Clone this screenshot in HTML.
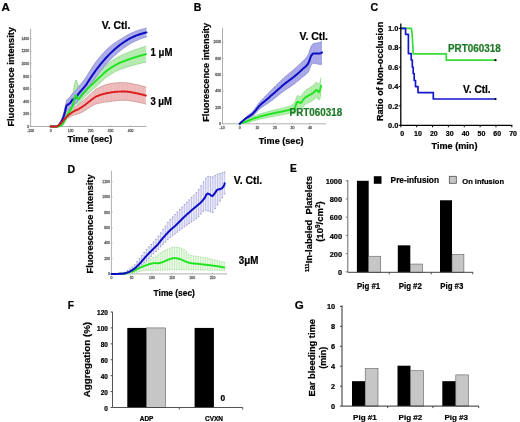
<!DOCTYPE html>
<html><head><meta charset="utf-8"><style>
html,body{margin:0;padding:0;background:#fff;}
body{width:520px;height:422px;overflow:hidden;}
svg{display:block;font-family:"Liberation Sans", sans-serif;will-change:transform;filter:blur(0.3px);}
</style></head><body>
<svg width="520" height="422" viewBox="0 0 520 422">
<rect width="520" height="422" fill="#fff"/>
<line x1="30.60" y1="29.00" x2="30.60" y2="126.50" stroke="#9a9a9a" stroke-width="0.8"/>
<line x1="30.60" y1="126.50" x2="146.50" y2="126.50" stroke="#9a9a9a" stroke-width="0.8"/>
<line x1="30.60" y1="126.50" x2="31.80" y2="126.50" stroke="#9a9a9a" stroke-width="0.6"/>
<text x="29.10" y="127.75" font-size="3.45" text-anchor="end" fill="#6a6a6a" font-weight="normal" stroke="#6a6a6a" stroke-width="0.28">0</text>
<line x1="30.60" y1="113.94" x2="31.80" y2="113.94" stroke="#9a9a9a" stroke-width="0.6"/>
<text x="29.10" y="115.19" font-size="3.45" text-anchor="end" fill="#6a6a6a" font-weight="normal" stroke="#6a6a6a" stroke-width="0.28">200</text>
<line x1="30.60" y1="101.38" x2="31.80" y2="101.38" stroke="#9a9a9a" stroke-width="0.6"/>
<text x="29.10" y="102.63" font-size="3.45" text-anchor="end" fill="#6a6a6a" font-weight="normal" stroke="#6a6a6a" stroke-width="0.28">400</text>
<line x1="30.60" y1="88.82" x2="31.80" y2="88.82" stroke="#9a9a9a" stroke-width="0.6"/>
<text x="29.10" y="90.07" font-size="3.45" text-anchor="end" fill="#6a6a6a" font-weight="normal" stroke="#6a6a6a" stroke-width="0.28">600</text>
<line x1="30.60" y1="76.26" x2="31.80" y2="76.26" stroke="#9a9a9a" stroke-width="0.6"/>
<text x="29.10" y="77.51" font-size="3.45" text-anchor="end" fill="#6a6a6a" font-weight="normal" stroke="#6a6a6a" stroke-width="0.28">800</text>
<line x1="30.60" y1="63.70" x2="31.80" y2="63.70" stroke="#9a9a9a" stroke-width="0.6"/>
<text x="29.10" y="64.95" font-size="3.45" text-anchor="end" fill="#6a6a6a" font-weight="normal" stroke="#6a6a6a" stroke-width="0.28">1000</text>
<line x1="30.60" y1="51.14" x2="31.80" y2="51.14" stroke="#9a9a9a" stroke-width="0.6"/>
<text x="29.10" y="52.39" font-size="3.45" text-anchor="end" fill="#6a6a6a" font-weight="normal" stroke="#6a6a6a" stroke-width="0.28">1200</text>
<line x1="30.60" y1="38.58" x2="31.80" y2="38.58" stroke="#9a9a9a" stroke-width="0.6"/>
<text x="29.10" y="39.83" font-size="3.45" text-anchor="end" fill="#6a6a6a" font-weight="normal" stroke="#6a6a6a" stroke-width="0.28">1400</text>
<line x1="30.60" y1="126.50" x2="30.60" y2="125.30" stroke="#9a9a9a" stroke-width="0.6"/>
<text x="30.60" y="131.50" font-size="3.45" text-anchor="middle" fill="#6a6a6a" font-weight="normal" stroke="#6a6a6a" stroke-width="0.28">-100</text>
<line x1="50.60" y1="126.50" x2="50.60" y2="125.30" stroke="#9a9a9a" stroke-width="0.6"/>
<text x="50.60" y="131.50" font-size="3.45" text-anchor="middle" fill="#6a6a6a" font-weight="normal" stroke="#6a6a6a" stroke-width="0.28">0</text>
<line x1="70.60" y1="126.50" x2="70.60" y2="125.30" stroke="#9a9a9a" stroke-width="0.6"/>
<text x="70.60" y="131.50" font-size="3.45" text-anchor="middle" fill="#6a6a6a" font-weight="normal" stroke="#6a6a6a" stroke-width="0.28">100</text>
<line x1="90.60" y1="126.50" x2="90.60" y2="125.30" stroke="#9a9a9a" stroke-width="0.6"/>
<text x="90.60" y="131.50" font-size="3.45" text-anchor="middle" fill="#6a6a6a" font-weight="normal" stroke="#6a6a6a" stroke-width="0.28">200</text>
<line x1="110.60" y1="126.50" x2="110.60" y2="125.30" stroke="#9a9a9a" stroke-width="0.6"/>
<text x="110.60" y="131.50" font-size="3.45" text-anchor="middle" fill="#6a6a6a" font-weight="normal" stroke="#6a6a6a" stroke-width="0.28">300</text>
<line x1="130.60" y1="126.50" x2="130.60" y2="125.30" stroke="#9a9a9a" stroke-width="0.6"/>
<text x="130.60" y="131.50" font-size="3.45" text-anchor="middle" fill="#6a6a6a" font-weight="normal" stroke="#6a6a6a" stroke-width="0.28">400</text>
<polygon points="50.6,126.5 51.4,126.4 52.2,126.4 53.0,126.3 53.8,126.3 54.6,126.2 55.4,126.2 56.2,126.1 57.0,126.0 57.8,125.5 58.6,124.8 59.4,124.0 60.2,123.2 61.0,122.3 61.8,121.2 62.6,120.1 63.4,119.0 64.2,117.9 65.0,116.8 65.8,115.8 66.6,114.8 67.4,113.8 68.2,112.8 69.0,112.0 69.8,111.1 70.6,110.3 71.4,109.6 72.2,108.9 73.0,108.2 73.8,107.6 74.6,107.0 75.4,106.5 76.2,105.9 77.0,105.4 77.8,104.9 78.6,104.3 79.4,103.7 80.2,103.1 81.0,102.5 81.8,101.9 82.6,101.2 83.4,100.6 84.2,99.9 85.0,99.2 85.8,98.5 86.6,97.7 87.4,97.0 88.2,96.3 89.0,95.6 89.8,94.9 90.6,94.1 91.4,93.3 92.2,92.6 93.0,91.8 93.8,91.1 94.6,90.4 95.4,89.8 96.2,89.2 97.0,88.7 97.8,88.3 98.6,87.8 99.4,87.4 100.2,87.0 101.0,86.6 101.8,86.3 102.6,86.0 103.4,85.7 104.2,85.4 105.0,85.1 105.8,84.8 106.6,84.6 107.4,84.3 108.2,84.1 109.0,83.9 109.8,83.7 110.6,83.5 111.4,83.4 112.2,83.3 113.0,83.2 113.8,83.1 114.6,83.0 115.4,82.9 116.2,82.9 117.0,82.8 117.8,82.8 118.6,82.7 119.4,82.7 120.2,82.7 121.0,82.7 121.8,82.7 122.6,82.7 123.4,82.7 124.2,82.7 125.0,82.7 125.8,82.7 126.6,82.8 127.4,82.9 128.2,83.0 129.0,83.1 129.8,83.3 130.6,83.4 131.4,83.6 132.2,83.8 133.0,83.9 133.8,84.1 134.6,84.3 135.4,84.4 136.2,84.6 137.0,84.8 137.8,84.9 138.6,85.1 139.4,85.3 140.2,85.5 141.0,85.7 141.8,85.9 142.6,86.1 143.4,86.4 144.2,86.6 145.0,86.8 145.8,87.0 146.0,87.1 146.0,104.1 145.8,104.0 145.0,103.8 144.2,103.6 143.4,103.4 142.6,103.2 141.8,103.0 141.0,102.9 140.2,102.7 139.4,102.5 138.6,102.3 137.8,102.2 137.0,102.0 136.2,101.9 135.4,101.7 134.6,101.6 133.8,101.4 133.0,101.3 132.2,101.1 131.4,101.0 130.6,100.8 129.8,100.7 129.0,100.6 128.2,100.5 127.4,100.4 126.6,100.3 125.8,100.3 125.0,100.3 124.2,100.3 123.4,100.3 122.6,100.3 121.8,100.4 121.0,100.4 120.2,100.4 119.4,100.5 118.6,100.5 117.8,100.5 117.0,100.6 116.2,100.7 115.4,100.8 114.6,100.9 113.8,101.0 113.0,101.1 112.2,101.2 111.4,101.4 110.6,101.5 109.8,101.6 109.0,101.7 108.2,101.7 107.4,101.8 106.6,101.9 105.8,102.0 105.0,102.1 104.2,102.2 103.4,102.3 102.6,102.5 101.8,102.6 101.0,102.8 100.2,103.0 99.4,103.2 98.6,103.3 97.8,103.5 97.0,103.7 96.2,103.9 95.4,104.2 94.6,104.6 93.8,105.0 93.0,105.4 92.2,105.9 91.4,106.4 90.6,106.9 89.8,107.4 89.0,107.9 88.2,108.4 87.4,108.9 86.6,109.5 85.8,110.0 85.0,110.5 84.2,111.0 83.4,111.4 82.6,111.9 81.8,112.3 81.0,112.7 80.2,113.1 79.4,113.5 78.6,113.7 77.8,114.0 77.0,114.2 76.2,114.4 75.4,114.6 74.6,114.9 73.8,115.1 73.0,115.4 72.2,115.7 71.4,116.1 70.6,116.6 69.8,117.0 69.0,117.5 68.2,117.9 67.4,118.5 66.6,119.1 65.8,119.7 65.0,120.3 64.2,121.0 63.4,121.8 62.6,122.7 61.8,123.5 61.0,124.3 60.2,124.9 59.4,125.4 58.6,126.0 57.8,126.5 57.0,126.8 56.2,126.9 55.4,126.8 54.6,126.8 53.8,126.7 53.0,126.7 52.2,126.6 51.4,126.6 50.6,126.5" fill="#f3c6c6"/>
<path d="M53.8 126.3V126.7M55.4 126.2V126.8M57.0 126.0V126.8M58.6 124.8V126.0M60.2 123.2V124.9M61.8 121.2V123.5M63.4 119.0V121.8M65.0 116.8V120.3M66.6 114.8V119.1M68.2 112.8V117.9M69.8 111.1V117.0M71.4 109.6V116.1M73.0 108.2V115.4M74.6 107.0V114.9M76.2 105.9V114.4M77.8 104.9V114.0M79.4 103.7V113.5M81.0 102.5V112.7M82.6 101.2V111.9M84.2 99.9V111.0M85.8 98.5V110.0M87.4 97.0V108.9M89.0 95.6V107.9M90.6 94.1V106.9M92.2 92.6V105.9M93.8 91.1V105.0M95.4 89.8V104.2M97.0 88.7V103.7M98.6 87.8V103.3M100.2 87.0V103.0M101.8 86.3V102.6M103.4 85.7V102.3M105.0 85.1V102.1M106.6 84.6V101.9M108.2 84.1V101.7M109.8 83.7V101.6M111.4 83.4V101.4M113.0 83.2V101.1M114.6 83.0V100.9M116.2 82.9V100.7M117.8 82.8V100.5M119.4 82.7V100.5M121.0 82.7V100.4M122.6 82.7V100.3M124.2 82.7V100.3M125.8 82.7V100.3M127.4 82.9V100.4M129.0 83.1V100.6M130.6 83.4V100.8M132.2 83.8V101.1M133.8 84.1V101.4M135.4 84.4V101.7M137.0 84.8V102.0M138.6 85.1V102.3M140.2 85.5V102.7M141.8 85.9V103.0M143.4 86.4V103.4M145.0 86.8V103.8" stroke="#e0a0a0" stroke-width="0.5" fill="none"/>
<polyline points="50.6,126.5 51.4,126.4 52.2,126.4 53.0,126.3 53.8,126.3 54.6,126.2 55.4,126.2 56.2,126.1 57.0,126.0 57.8,125.5 58.6,124.8 59.4,124.0 60.2,123.2 61.0,122.3 61.8,121.2 62.6,120.1 63.4,119.0 64.2,117.9 65.0,116.8 65.8,115.8 66.6,114.8 67.4,113.8 68.2,112.8 69.0,112.0 69.8,111.1 70.6,110.3 71.4,109.6 72.2,108.9 73.0,108.2 73.8,107.6 74.6,107.0 75.4,106.5 76.2,105.9 77.0,105.4 77.8,104.9 78.6,104.3 79.4,103.7 80.2,103.1 81.0,102.5 81.8,101.9 82.6,101.2 83.4,100.6 84.2,99.9 85.0,99.2 85.8,98.5 86.6,97.7 87.4,97.0 88.2,96.3 89.0,95.6 89.8,94.9 90.6,94.1 91.4,93.3 92.2,92.6 93.0,91.8 93.8,91.1 94.6,90.4 95.4,89.8 96.2,89.2 97.0,88.7 97.8,88.3 98.6,87.8 99.4,87.4 100.2,87.0 101.0,86.6 101.8,86.3 102.6,86.0 103.4,85.7 104.2,85.4 105.0,85.1 105.8,84.8 106.6,84.6 107.4,84.3 108.2,84.1 109.0,83.9 109.8,83.7 110.6,83.5 111.4,83.4 112.2,83.3 113.0,83.2 113.8,83.1 114.6,83.0 115.4,82.9 116.2,82.9 117.0,82.8 117.8,82.8 118.6,82.7 119.4,82.7 120.2,82.7 121.0,82.7 121.8,82.7 122.6,82.7 123.4,82.7 124.2,82.7 125.0,82.7 125.8,82.7 126.6,82.8 127.4,82.9 128.2,83.0 129.0,83.1 129.8,83.3 130.6,83.4 131.4,83.6 132.2,83.8 133.0,83.9 133.8,84.1 134.6,84.3 135.4,84.4 136.2,84.6 137.0,84.8 137.8,84.9 138.6,85.1 139.4,85.3 140.2,85.5 141.0,85.7 141.8,85.9 142.6,86.1 143.4,86.4 144.2,86.6 145.0,86.8 145.8,87.0 146.0,87.1" fill="none" stroke="#c48888" stroke-width="0.7" stroke-linejoin="round" stroke-linecap="round"/>
<polyline points="50.6,126.5 51.4,126.6 52.2,126.6 53.0,126.7 53.8,126.7 54.6,126.8 55.4,126.8 56.2,126.9 57.0,126.8 57.8,126.5 58.6,126.0 59.4,125.4 60.2,124.9 61.0,124.3 61.8,123.5 62.6,122.7 63.4,121.8 64.2,121.0 65.0,120.3 65.8,119.7 66.6,119.1 67.4,118.5 68.2,117.9 69.0,117.5 69.8,117.0 70.6,116.6 71.4,116.1 72.2,115.7 73.0,115.4 73.8,115.1 74.6,114.9 75.4,114.6 76.2,114.4 77.0,114.2 77.8,114.0 78.6,113.7 79.4,113.5 80.2,113.1 81.0,112.7 81.8,112.3 82.6,111.9 83.4,111.4 84.2,111.0 85.0,110.5 85.8,110.0 86.6,109.5 87.4,108.9 88.2,108.4 89.0,107.9 89.8,107.4 90.6,106.9 91.4,106.4 92.2,105.9 93.0,105.4 93.8,105.0 94.6,104.6 95.4,104.2 96.2,103.9 97.0,103.7 97.8,103.5 98.6,103.3 99.4,103.2 100.2,103.0 101.0,102.8 101.8,102.6 102.6,102.5 103.4,102.3 104.2,102.2 105.0,102.1 105.8,102.0 106.6,101.9 107.4,101.8 108.2,101.7 109.0,101.7 109.8,101.6 110.6,101.5 111.4,101.4 112.2,101.2 113.0,101.1 113.8,101.0 114.6,100.9 115.4,100.8 116.2,100.7 117.0,100.6 117.8,100.5 118.6,100.5 119.4,100.5 120.2,100.4 121.0,100.4 121.8,100.4 122.6,100.3 123.4,100.3 124.2,100.3 125.0,100.3 125.8,100.3 126.6,100.3 127.4,100.4 128.2,100.5 129.0,100.6 129.8,100.7 130.6,100.8 131.4,101.0 132.2,101.1 133.0,101.3 133.8,101.4 134.6,101.6 135.4,101.7 136.2,101.9 137.0,102.0 137.8,102.2 138.6,102.3 139.4,102.5 140.2,102.7 141.0,102.9 141.8,103.0 142.6,103.2 143.4,103.4 144.2,103.6 145.0,103.8 145.8,104.0 146.0,104.1" fill="none" stroke="#c48888" stroke-width="0.7" stroke-linejoin="round" stroke-linecap="round"/>
<polygon points="50.6,126.5 51.4,126.5 52.2,126.4 53.0,126.4 53.8,126.3 54.6,126.3 55.4,126.2 56.2,126.2 57.0,126.2 57.8,126.1 58.6,126.0 59.4,125.8 60.2,125.3 61.0,124.7 61.8,123.8 62.6,122.6 63.4,121.2 64.2,119.6 65.0,117.7 65.8,115.6 66.6,113.5 67.4,111.7 68.2,110.0 69.0,108.4 69.8,106.9 70.6,105.2 71.4,103.4 72.2,100.7 73.0,95.0 73.8,89.1 74.6,84.4 75.4,81.1 76.2,80.0 77.0,82.0 77.8,84.2 78.6,87.6 79.4,89.2 80.2,90.2 81.0,90.0 81.8,89.0 82.6,88.1 83.4,87.3 84.2,86.5 85.0,85.6 85.8,84.8 86.6,84.0 87.4,83.2 88.2,82.4 89.0,81.6 89.8,80.8 90.6,80.0 91.4,79.2 92.2,78.4 93.0,77.6 93.8,76.8 94.6,76.0 95.4,75.3 96.2,74.5 97.0,73.7 97.8,73.0 98.6,72.2 99.4,71.4 100.2,70.6 101.0,69.8 101.8,69.0 102.6,68.2 103.4,67.5 104.2,66.7 105.0,66.0 105.8,65.3 106.6,64.6 107.4,64.0 108.2,63.4 109.0,62.8 109.8,62.2 110.6,61.7 111.4,61.1 112.2,60.5 113.0,60.0 113.8,59.5 114.6,59.0 115.4,58.5 116.2,58.0 117.0,57.6 117.8,57.1 118.6,56.7 119.4,56.3 120.2,55.9 121.0,55.5 121.8,55.2 122.6,54.8 123.4,54.5 124.2,54.1 125.0,53.8 125.8,53.5 126.6,53.1 127.4,52.8 128.2,52.5 129.0,52.1 129.8,51.8 130.6,51.5 131.4,51.2 132.2,50.9 133.0,50.6 133.8,50.3 134.6,50.0 135.4,49.7 136.2,49.4 137.0,49.1 137.8,48.8 138.6,48.6 139.4,48.3 140.2,48.0 141.0,47.8 141.8,47.5 142.6,47.2 143.4,47.0 144.2,46.7 145.0,46.5 145.8,46.3 146.0,46.2 146.0,62.2 145.8,62.2 145.0,62.4 144.2,62.6 143.4,62.7 142.6,62.9 141.8,63.1 141.0,63.3 140.2,63.5 139.4,63.7 138.6,63.9 137.8,64.1 137.0,64.3 136.2,64.5 135.4,64.7 134.6,64.9 133.8,65.1 133.0,65.3 132.2,65.6 131.4,65.8 130.6,66.0 129.8,66.3 129.0,66.5 128.2,66.8 127.4,67.0 126.6,67.3 125.8,67.5 125.0,67.8 124.2,68.1 123.4,68.3 122.6,68.6 121.8,68.9 121.0,69.2 120.2,69.5 119.4,69.8 118.6,70.2 117.8,70.5 117.0,70.9 116.2,71.3 115.4,71.7 114.6,72.1 113.8,72.6 113.0,73.0 112.2,73.5 111.4,74.0 110.6,74.5 109.8,75.0 109.0,75.5 108.2,76.0 107.4,76.6 106.6,77.2 105.8,77.8 105.0,78.5 104.2,79.1 103.4,79.8 102.6,80.6 101.8,81.3 101.0,82.0 100.2,82.8 99.4,83.5 98.6,84.3 97.8,85.0 97.0,85.8 96.2,86.5 95.4,87.2 94.6,87.9 93.8,88.6 93.0,89.3 92.2,90.0 91.4,90.8 90.6,91.5 89.8,92.2 89.0,93.0 88.2,93.7 87.4,94.5 86.6,95.2 85.8,96.0 85.0,96.7 84.2,97.5 83.4,98.3 82.6,99.2 81.8,100.1 81.0,101.1 80.2,102.1 79.4,103.2 78.6,104.6 77.8,105.0 77.0,104.5 76.2,102.8 75.4,103.9 74.6,105.3 73.8,108.1 73.0,110.6 72.2,111.8 71.4,112.9 70.6,114.0 69.8,115.0 69.0,115.9 68.2,116.9 67.4,117.8 66.6,119.0 65.8,120.5 65.0,122.0 64.2,123.4 63.4,124.4 62.6,125.3 61.8,126.0 61.0,126.3 60.2,126.5 59.4,126.7 58.6,126.9 57.8,126.9 57.0,126.8 56.2,126.8 55.4,126.8 54.6,126.7 53.8,126.7 53.0,126.6 52.2,126.6 51.4,126.5 50.6,126.5" fill="#c4f0bc"/>
<path d="M53.8 126.3V126.7M55.4 126.2V126.8M57.0 126.2V126.8M58.6 126.0V126.9M60.2 125.3V126.5M61.8 123.8V126.0M63.4 121.2V124.4M65.0 117.7V122.0M66.6 113.5V119.0M68.2 110.0V116.9M69.8 106.9V115.0M71.4 103.4V112.9M73.0 95.0V110.6M74.6 84.4V105.3M76.2 80.0V102.8M77.8 84.2V105.0M79.4 89.2V103.2M81.0 90.0V101.1M82.6 88.1V99.2M84.2 86.5V97.5M85.8 84.8V96.0M87.4 83.2V94.5M89.0 81.6V93.0M90.6 80.0V91.5M92.2 78.4V90.0M93.8 76.8V88.6M95.4 75.3V87.2M97.0 73.7V85.8M98.6 72.2V84.3M100.2 70.6V82.8M101.8 69.0V81.3M103.4 67.5V79.8M105.0 66.0V78.5M106.6 64.6V77.2M108.2 63.4V76.0M109.8 62.2V75.0M111.4 61.1V74.0M113.0 60.0V73.0M114.6 59.0V72.1M116.2 58.0V71.3M117.8 57.1V70.5M119.4 56.3V69.8M121.0 55.5V69.2M122.6 54.8V68.6M124.2 54.1V68.1M125.8 53.5V67.5M127.4 52.8V67.0M129.0 52.1V66.5M130.6 51.5V66.0M132.2 50.9V65.6M133.8 50.3V65.1M135.4 49.7V64.7M137.0 49.1V64.3M138.6 48.6V63.9M140.2 48.0V63.5M141.8 47.5V63.1M143.4 47.0V62.7M145.0 46.5V62.4" stroke="#98e098" stroke-width="0.5" fill="none"/>
<polyline points="50.6,126.5 51.4,126.5 52.2,126.4 53.0,126.4 53.8,126.3 54.6,126.3 55.4,126.2 56.2,126.2 57.0,126.2 57.8,126.1 58.6,126.0 59.4,125.8 60.2,125.3 61.0,124.7 61.8,123.8 62.6,122.6 63.4,121.2 64.2,119.6 65.0,117.7 65.8,115.6 66.6,113.5 67.4,111.7 68.2,110.0 69.0,108.4 69.8,106.9 70.6,105.2 71.4,103.4 72.2,100.7 73.0,95.0 73.8,89.1 74.6,84.4 75.4,81.1 76.2,80.0 77.0,82.0 77.8,84.2 78.6,87.6 79.4,89.2 80.2,90.2 81.0,90.0 81.8,89.0 82.6,88.1 83.4,87.3 84.2,86.5 85.0,85.6 85.8,84.8 86.6,84.0 87.4,83.2 88.2,82.4 89.0,81.6 89.8,80.8 90.6,80.0 91.4,79.2 92.2,78.4 93.0,77.6 93.8,76.8 94.6,76.0 95.4,75.3 96.2,74.5 97.0,73.7 97.8,73.0 98.6,72.2 99.4,71.4 100.2,70.6 101.0,69.8 101.8,69.0 102.6,68.2 103.4,67.5 104.2,66.7 105.0,66.0 105.8,65.3 106.6,64.6 107.4,64.0 108.2,63.4 109.0,62.8 109.8,62.2 110.6,61.7 111.4,61.1 112.2,60.5 113.0,60.0 113.8,59.5 114.6,59.0 115.4,58.5 116.2,58.0 117.0,57.6 117.8,57.1 118.6,56.7 119.4,56.3 120.2,55.9 121.0,55.5 121.8,55.2 122.6,54.8 123.4,54.5 124.2,54.1 125.0,53.8 125.8,53.5 126.6,53.1 127.4,52.8 128.2,52.5 129.0,52.1 129.8,51.8 130.6,51.5 131.4,51.2 132.2,50.9 133.0,50.6 133.8,50.3 134.6,50.0 135.4,49.7 136.2,49.4 137.0,49.1 137.8,48.8 138.6,48.6 139.4,48.3 140.2,48.0 141.0,47.8 141.8,47.5 142.6,47.2 143.4,47.0 144.2,46.7 145.0,46.5 145.8,46.3 146.0,46.2" fill="none" stroke="#8cd08c" stroke-width="0.7" stroke-linejoin="round" stroke-linecap="round"/>
<polyline points="50.6,126.5 51.4,126.5 52.2,126.6 53.0,126.6 53.8,126.7 54.6,126.7 55.4,126.8 56.2,126.8 57.0,126.8 57.8,126.9 58.6,126.9 59.4,126.7 60.2,126.5 61.0,126.3 61.8,126.0 62.6,125.3 63.4,124.4 64.2,123.4 65.0,122.0 65.8,120.5 66.6,119.0 67.4,117.8 68.2,116.9 69.0,115.9 69.8,115.0 70.6,114.0 71.4,112.9 72.2,111.8 73.0,110.6 73.8,108.1 74.6,105.3 75.4,103.9 76.2,102.8 77.0,104.5 77.8,105.0 78.6,104.6 79.4,103.2 80.2,102.1 81.0,101.1 81.8,100.1 82.6,99.2 83.4,98.3 84.2,97.5 85.0,96.7 85.8,96.0 86.6,95.2 87.4,94.5 88.2,93.7 89.0,93.0 89.8,92.2 90.6,91.5 91.4,90.8 92.2,90.0 93.0,89.3 93.8,88.6 94.6,87.9 95.4,87.2 96.2,86.5 97.0,85.8 97.8,85.0 98.6,84.3 99.4,83.5 100.2,82.8 101.0,82.0 101.8,81.3 102.6,80.6 103.4,79.8 104.2,79.1 105.0,78.5 105.8,77.8 106.6,77.2 107.4,76.6 108.2,76.0 109.0,75.5 109.8,75.0 110.6,74.5 111.4,74.0 112.2,73.5 113.0,73.0 113.8,72.6 114.6,72.1 115.4,71.7 116.2,71.3 117.0,70.9 117.8,70.5 118.6,70.2 119.4,69.8 120.2,69.5 121.0,69.2 121.8,68.9 122.6,68.6 123.4,68.3 124.2,68.1 125.0,67.8 125.8,67.5 126.6,67.3 127.4,67.0 128.2,66.8 129.0,66.5 129.8,66.3 130.6,66.0 131.4,65.8 132.2,65.6 133.0,65.3 133.8,65.1 134.6,64.9 135.4,64.7 136.2,64.5 137.0,64.3 137.8,64.1 138.6,63.9 139.4,63.7 140.2,63.5 141.0,63.3 141.8,63.1 142.6,62.9 143.4,62.7 144.2,62.6 145.0,62.4 145.8,62.2 146.0,62.2" fill="none" stroke="#8cd08c" stroke-width="0.7" stroke-linejoin="round" stroke-linecap="round"/>
<polygon points="50.6,126.5 51.4,126.4 52.2,126.4 53.0,126.3 53.8,126.3 54.6,126.2 55.4,126.2 56.2,126.1 57.0,125.9 57.8,125.4 58.6,124.4 59.4,123.3 60.2,122.0 61.0,120.6 61.8,118.8 62.6,116.5 63.4,114.0 64.2,111.0 65.0,107.5 65.8,103.5 66.6,100.5 67.4,99.5 68.2,98.6 69.0,97.9 69.8,97.2 70.6,96.3 71.4,94.8 72.2,93.6 73.0,93.0 73.8,92.5 74.6,91.9 75.4,91.1 76.2,90.2 77.0,89.2 77.8,88.0 78.6,86.9 79.4,85.8 80.2,84.8 81.0,83.8 81.8,82.8 82.6,81.8 83.4,80.8 84.2,79.8 85.0,78.7 85.8,77.6 86.6,76.4 87.4,75.1 88.2,73.8 89.0,72.4 89.8,71.1 90.6,69.8 91.4,68.6 92.2,67.3 93.0,66.1 93.8,64.9 94.6,63.7 95.4,62.5 96.2,61.4 97.0,60.4 97.8,59.4 98.6,58.4 99.4,57.5 100.2,56.6 101.0,55.6 101.8,54.7 102.6,53.8 103.4,53.0 104.2,52.1 105.0,51.3 105.8,50.4 106.6,49.6 107.4,48.8 108.2,48.1 109.0,47.4 109.8,46.7 110.6,46.1 111.4,45.4 112.2,44.8 113.0,44.2 113.8,43.6 114.6,43.0 115.4,42.5 116.2,42.0 117.0,41.4 117.8,40.9 118.6,40.4 119.4,39.9 120.2,39.4 121.0,39.0 121.8,38.5 122.6,38.0 123.4,37.5 124.2,37.0 125.0,36.5 125.8,36.0 126.6,35.6 127.4,35.1 128.2,34.6 129.0,34.2 129.8,33.8 130.6,33.4 131.4,33.0 132.2,32.6 133.0,32.3 133.8,32.0 134.6,31.7 135.4,31.3 136.2,31.0 137.0,30.8 137.8,30.5 138.6,30.2 139.4,30.0 140.2,29.7 141.0,29.5 141.8,29.3 142.6,29.1 143.4,28.9 144.2,28.7 145.0,28.5 145.8,28.3 146.5,28.2 146.5,36.9 145.8,37.1 145.0,37.4 144.2,37.6 143.4,37.9 142.6,38.2 141.8,38.4 141.0,38.7 140.2,39.0 139.4,39.3 138.6,39.7 137.8,40.0 137.0,40.4 136.2,40.7 135.4,41.1 134.6,41.5 133.8,41.9 133.0,42.3 132.2,42.7 131.4,43.1 130.6,43.6 129.8,44.0 129.0,44.5 128.2,45.1 127.4,45.6 126.6,46.1 125.8,46.7 125.0,47.2 124.2,47.8 123.4,48.4 122.6,48.9 121.8,49.5 121.0,50.2 120.2,50.8 119.4,51.5 118.6,52.1 117.8,52.8 117.0,53.5 116.2,54.2 115.4,54.9 114.6,55.6 113.8,56.4 113.0,57.1 112.2,57.9 111.4,58.7 110.6,59.5 109.8,60.3 109.0,61.2 108.2,62.0 107.4,62.9 106.6,63.8 105.8,64.7 105.0,65.6 104.2,66.6 103.4,67.5 102.6,68.5 101.8,69.5 101.0,70.5 100.2,71.5 99.4,72.6 98.6,73.6 97.8,74.7 97.0,75.8 96.2,76.9 95.4,77.9 94.6,79.0 93.8,80.1 93.0,81.2 92.2,82.3 91.4,83.5 90.6,84.6 89.8,85.8 89.0,87.0 88.2,88.3 87.4,89.5 86.6,90.7 85.8,91.8 85.0,92.8 84.2,93.7 83.4,94.6 82.6,95.5 81.8,96.4 81.0,97.3 80.2,98.2 79.4,99.2 78.6,100.1 77.8,101.1 77.0,102.2 76.2,103.1 75.4,103.9 74.6,104.6 73.8,105.2 73.0,105.6 72.2,106.0 71.4,107.1 70.6,108.5 69.8,109.3 69.0,109.9 68.2,110.1 67.4,110.4 66.6,110.9 65.8,113.2 65.0,116.0 64.2,118.3 63.4,120.1 62.6,121.4 61.8,122.6 61.0,123.8 60.2,124.7 59.4,125.3 58.6,125.9 57.8,126.4 57.0,126.8 56.2,126.9 55.4,126.8 54.6,126.8 53.8,126.7 53.0,126.7 52.2,126.6 51.4,126.6 50.6,126.5" fill="#b4b4ee"/>
<path d="M53.8 126.3V126.7M55.4 126.2V126.8M57.0 125.9V126.8M58.6 124.4V125.9M60.2 122.0V124.7M61.8 118.8V122.6M63.4 114.0V120.1M65.0 107.5V116.0M66.6 100.5V110.9M68.2 98.6V110.1M69.8 97.2V109.3M71.4 94.8V107.1M73.0 93.0V105.6M74.6 91.9V104.6M76.2 90.2V103.1M77.8 88.0V101.1M79.4 85.8V99.2M81.0 83.8V97.3M82.6 81.8V95.5M84.2 79.8V93.7M85.8 77.6V91.8M87.4 75.1V89.5M89.0 72.4V87.0M90.6 69.8V84.6M92.2 67.3V82.3M93.8 64.9V80.1M95.4 62.5V77.9M97.0 60.4V75.8M98.6 58.4V73.6M100.2 56.6V71.5M101.8 54.7V69.5M103.4 53.0V67.5M105.0 51.3V65.6M106.6 49.6V63.8M108.2 48.1V62.0M109.8 46.7V60.3M111.4 45.4V58.7M113.0 44.2V57.1M114.6 43.0V55.6M116.2 42.0V54.2M117.8 40.9V52.8M119.4 39.9V51.5M121.0 39.0V50.2M122.6 38.0V48.9M124.2 37.0V47.8M125.8 36.0V46.7M127.4 35.1V45.6M129.0 34.2V44.5M130.6 33.4V43.6M132.2 32.6V42.7M133.8 32.0V41.9M135.4 31.3V41.1M137.0 30.8V40.4M138.6 30.2V39.7M140.2 29.7V39.0M141.8 29.3V38.4M143.4 28.9V37.9M145.0 28.5V37.4" stroke="#9c9cdc" stroke-width="0.5" fill="none"/>
<polyline points="50.6,126.5 51.4,126.4 52.2,126.4 53.0,126.3 53.8,126.3 54.6,126.2 55.4,126.2 56.2,126.1 57.0,125.9 57.8,125.4 58.6,124.4 59.4,123.3 60.2,122.0 61.0,120.6 61.8,118.8 62.6,116.5 63.4,114.0 64.2,111.0 65.0,107.5 65.8,103.5 66.6,100.5 67.4,99.5 68.2,98.6 69.0,97.9 69.8,97.2 70.6,96.3 71.4,94.8 72.2,93.6 73.0,93.0 73.8,92.5 74.6,91.9 75.4,91.1 76.2,90.2 77.0,89.2 77.8,88.0 78.6,86.9 79.4,85.8 80.2,84.8 81.0,83.8 81.8,82.8 82.6,81.8 83.4,80.8 84.2,79.8 85.0,78.7 85.8,77.6 86.6,76.4 87.4,75.1 88.2,73.8 89.0,72.4 89.8,71.1 90.6,69.8 91.4,68.6 92.2,67.3 93.0,66.1 93.8,64.9 94.6,63.7 95.4,62.5 96.2,61.4 97.0,60.4 97.8,59.4 98.6,58.4 99.4,57.5 100.2,56.6 101.0,55.6 101.8,54.7 102.6,53.8 103.4,53.0 104.2,52.1 105.0,51.3 105.8,50.4 106.6,49.6 107.4,48.8 108.2,48.1 109.0,47.4 109.8,46.7 110.6,46.1 111.4,45.4 112.2,44.8 113.0,44.2 113.8,43.6 114.6,43.0 115.4,42.5 116.2,42.0 117.0,41.4 117.8,40.9 118.6,40.4 119.4,39.9 120.2,39.4 121.0,39.0 121.8,38.5 122.6,38.0 123.4,37.5 124.2,37.0 125.0,36.5 125.8,36.0 126.6,35.6 127.4,35.1 128.2,34.6 129.0,34.2 129.8,33.8 130.6,33.4 131.4,33.0 132.2,32.6 133.0,32.3 133.8,32.0 134.6,31.7 135.4,31.3 136.2,31.0 137.0,30.8 137.8,30.5 138.6,30.2 139.4,30.0 140.2,29.7 141.0,29.5 141.8,29.3 142.6,29.1 143.4,28.9 144.2,28.7 145.0,28.5 145.8,28.3 146.5,28.2" fill="none" stroke="#8484c0" stroke-width="0.7" stroke-linejoin="round" stroke-linecap="round"/>
<polyline points="50.6,126.5 51.4,126.6 52.2,126.6 53.0,126.7 53.8,126.7 54.6,126.8 55.4,126.8 56.2,126.9 57.0,126.8 57.8,126.4 58.6,125.9 59.4,125.3 60.2,124.7 61.0,123.8 61.8,122.6 62.6,121.4 63.4,120.1 64.2,118.3 65.0,116.0 65.8,113.2 66.6,110.9 67.4,110.4 68.2,110.1 69.0,109.9 69.8,109.3 70.6,108.5 71.4,107.1 72.2,106.0 73.0,105.6 73.8,105.2 74.6,104.6 75.4,103.9 76.2,103.1 77.0,102.2 77.8,101.1 78.6,100.1 79.4,99.2 80.2,98.2 81.0,97.3 81.8,96.4 82.6,95.5 83.4,94.6 84.2,93.7 85.0,92.8 85.8,91.8 86.6,90.7 87.4,89.5 88.2,88.3 89.0,87.0 89.8,85.8 90.6,84.6 91.4,83.5 92.2,82.3 93.0,81.2 93.8,80.1 94.6,79.0 95.4,77.9 96.2,76.9 97.0,75.8 97.8,74.7 98.6,73.6 99.4,72.6 100.2,71.5 101.0,70.5 101.8,69.5 102.6,68.5 103.4,67.5 104.2,66.6 105.0,65.6 105.8,64.7 106.6,63.8 107.4,62.9 108.2,62.0 109.0,61.2 109.8,60.3 110.6,59.5 111.4,58.7 112.2,57.9 113.0,57.1 113.8,56.4 114.6,55.6 115.4,54.9 116.2,54.2 117.0,53.5 117.8,52.8 118.6,52.1 119.4,51.5 120.2,50.8 121.0,50.2 121.8,49.5 122.6,48.9 123.4,48.4 124.2,47.8 125.0,47.2 125.8,46.7 126.6,46.1 127.4,45.6 128.2,45.1 129.0,44.5 129.8,44.0 130.6,43.6 131.4,43.1 132.2,42.7 133.0,42.3 133.8,41.9 134.6,41.5 135.4,41.1 136.2,40.7 137.0,40.4 137.8,40.0 138.6,39.7 139.4,39.3 140.2,39.0 141.0,38.7 141.8,38.4 142.6,38.2 143.4,37.9 144.2,37.6 145.0,37.4 145.8,37.1 146.5,36.9" fill="none" stroke="#8484c0" stroke-width="0.7" stroke-linejoin="round" stroke-linecap="round"/>
<polyline points="50.6,126.5 51.1,126.5 51.6,126.5 52.1,126.5 52.6,126.5 53.1,126.5 53.6,126.5 54.1,126.5 54.6,126.5 55.1,126.5 55.6,126.5 56.1,126.5 56.6,126.5 57.1,126.3 57.6,126.1 58.1,125.7 58.6,125.2 59.1,124.6 59.6,124.1 60.1,123.5 60.6,122.8 61.1,122.0 61.6,121.1 62.1,120.1 62.6,119.0 63.1,117.8 63.6,116.5 64.1,115.0 64.6,113.2 65.1,111.4 65.6,109.3 66.1,107.0 66.6,105.7 67.1,105.1 67.6,104.8 68.1,104.4 68.6,104.1 69.1,103.8 69.6,103.4 70.1,103.0 70.6,102.4 71.1,101.6 71.6,100.6 72.1,100.0 72.6,99.6 73.1,99.4 73.6,99.1 74.1,98.8 74.6,98.4 75.1,97.9 75.6,97.5 76.1,96.9 76.6,96.4 77.1,95.8 77.6,95.1 78.1,94.4 78.6,93.7 79.1,93.1 79.6,92.5 80.1,91.9 80.6,91.3 81.1,90.8 81.6,90.2 82.1,89.6 82.6,89.0 83.1,88.4 83.6,87.9 84.1,87.3 84.6,86.7 85.1,86.1 85.6,85.4 86.1,84.8 86.6,84.1 87.1,83.3 87.6,82.5 88.1,81.7 88.6,80.9 89.1,80.1 89.6,79.3 90.1,78.6 90.6,77.8 91.1,77.1 91.6,76.3 92.1,75.6 92.6,74.9 93.1,74.2 93.6,73.5 94.1,72.8 94.6,72.1 95.1,71.4 95.6,70.7 96.1,70.0 96.6,69.3 97.1,68.7 97.6,68.0 98.1,67.4 98.6,66.7 99.1,66.1 99.6,65.5 100.1,64.8 100.6,64.2 101.1,63.6 101.6,63.0 102.1,62.4 102.6,61.8 103.1,61.2 103.6,60.6 104.1,60.0 104.6,59.5 105.1,58.9 105.6,58.3 106.1,57.8 106.6,57.2 107.1,56.7 107.6,56.2 108.1,55.6 108.6,55.1 109.1,54.6 109.6,54.1 110.1,53.6 110.6,53.1 111.1,52.6 111.6,52.1 112.1,51.7 112.6,51.2 113.1,50.7 113.6,50.3 114.1,49.8 114.6,49.4 115.1,48.9 115.6,48.5 116.1,48.1 116.6,47.7 117.1,47.2 117.6,46.8 118.1,46.4 118.6,46.0 119.1,45.6 119.6,45.2 120.1,44.8 120.6,44.4 121.1,44.1 121.6,43.7 122.1,43.3 122.6,43.0 123.1,42.6 123.6,42.3 124.1,42.0 124.6,41.7 125.1,41.4 125.6,41.0 126.1,40.7 126.6,40.4 127.1,40.1 127.6,39.8 128.1,39.5 128.6,39.2 129.1,38.9 129.6,38.6 130.1,38.3 130.6,38.1 131.1,37.8 131.6,37.6 132.1,37.4 132.6,37.1 133.1,36.9 133.6,36.7 134.1,36.5 134.6,36.2 135.1,36.0 135.6,35.8 136.1,35.6 136.6,35.4 137.1,35.2 137.6,35.0 138.1,34.9 138.6,34.7 139.1,34.5 139.6,34.3 140.1,34.2 140.6,34.0 141.1,33.9 141.6,33.7 142.1,33.6 142.6,33.4 143.1,33.3 143.6,33.1 144.1,33.0 144.6,32.9 145.1,32.7 145.6,32.6 146.1,32.5 146.5,32.4" fill="none" stroke="#0c0cc4" stroke-width="2.0" stroke-linejoin="round" stroke-linecap="round"/>
<polyline points="50.6,126.5 51.1,126.5 51.6,126.5 52.1,126.5 52.6,126.5 53.1,126.5 53.6,126.5 54.1,126.5 54.6,126.5 55.1,126.5 55.6,126.5 56.1,126.5 56.6,126.5 57.1,126.5 57.6,126.5 58.1,126.5 58.6,126.4 59.1,126.3 59.6,126.2 60.1,125.9 60.6,125.7 61.1,125.4 61.6,125.1 62.1,124.5 62.6,123.9 63.1,123.2 63.6,122.5 64.1,121.7 64.6,120.7 65.1,119.6 65.6,118.5 66.1,117.4 66.6,116.3 67.1,115.3 67.6,114.4 68.1,113.6 68.6,112.8 69.1,112.0 69.6,111.3 70.1,110.4 70.6,109.6 71.1,108.7 71.6,107.8 72.1,106.8 72.6,105.7 73.1,104.4 73.6,102.4 74.1,100.1 74.6,98.1 75.1,96.7 75.6,95.6 76.1,95.2 76.6,96.5 77.1,98.0 77.6,98.7 78.1,99.2 78.6,99.2 79.1,98.6 79.6,97.8 80.1,97.1 80.6,96.5 81.1,95.8 81.6,95.1 82.1,94.5 82.6,93.8 83.1,93.2 83.6,92.6 84.1,92.1 84.6,91.6 85.1,91.1 85.6,90.6 86.1,90.1 86.6,89.6 87.1,89.1 87.6,88.6 88.1,88.1 88.6,87.6 89.1,87.2 89.6,86.7 90.1,86.2 90.6,85.7 91.1,85.3 91.6,84.8 92.1,84.3 92.6,83.8 93.1,83.4 93.6,82.9 94.1,82.4 94.6,82.0 95.1,81.5 95.6,81.0 96.1,80.6 96.6,80.1 97.1,79.6 97.6,79.2 98.1,78.7 98.6,78.2 99.1,77.7 99.6,77.3 100.1,76.8 100.6,76.3 101.1,75.8 101.6,75.3 102.1,74.9 102.6,74.4 103.1,73.9 103.6,73.5 104.1,73.0 104.6,72.6 105.1,72.1 105.6,71.7 106.1,71.3 106.6,70.9 107.1,70.5 107.6,70.1 108.1,69.8 108.6,69.4 109.1,69.1 109.6,68.7 110.1,68.4 110.6,68.1 111.1,67.7 111.6,67.4 112.1,67.1 112.6,66.8 113.1,66.5 113.6,66.2 114.1,65.9 114.6,65.6 115.1,65.3 115.6,65.0 116.1,64.7 116.6,64.5 117.1,64.2 117.6,63.9 118.1,63.7 118.6,63.4 119.1,63.2 119.6,63.0 120.1,62.7 120.6,62.5 121.1,62.3 121.6,62.1 122.1,61.9 122.6,61.7 123.1,61.5 123.6,61.3 124.1,61.1 124.6,61.0 125.1,60.8 125.6,60.6 126.1,60.4 126.6,60.2 127.1,60.0 127.6,59.8 128.1,59.6 128.6,59.5 129.1,59.3 129.6,59.1 130.1,58.9 130.6,58.8 131.1,58.6 131.6,58.4 132.1,58.2 132.6,58.1 133.1,57.9 133.6,57.7 134.1,57.6 134.6,57.4 135.1,57.3 135.6,57.1 136.1,57.0 136.6,56.8 137.1,56.7 137.6,56.5 138.1,56.4 138.6,56.2 139.1,56.1 139.6,55.9 140.1,55.8 140.6,55.6 141.1,55.5 141.6,55.4 142.1,55.2 142.6,55.1 143.1,54.9 143.6,54.8 144.1,54.7 144.6,54.6 145.1,54.4 145.6,54.3 146.0,54.2" fill="none" stroke="#1ee41e" stroke-width="1.9" stroke-linejoin="round" stroke-linecap="round"/>
<polyline points="50.6,126.5 51.1,126.5 51.6,126.5 52.1,126.5 52.6,126.5 53.1,126.5 53.6,126.5 54.1,126.5 54.6,126.5 55.1,126.5 55.6,126.5 56.1,126.5 56.6,126.5 57.1,126.4 57.6,126.1 58.1,125.8 58.6,125.4 59.1,125.0 59.6,124.5 60.1,124.1 60.6,123.7 61.1,123.2 61.6,122.6 62.1,122.0 62.6,121.4 63.1,120.8 63.6,120.2 64.1,119.6 64.6,119.0 65.1,118.5 65.6,117.9 66.1,117.4 66.6,116.9 67.1,116.4 67.6,115.9 68.1,115.5 68.6,115.0 69.1,114.6 69.6,114.2 70.1,113.8 70.6,113.4 71.1,113.1 71.6,112.7 72.1,112.4 72.6,112.0 73.1,111.7 73.6,111.5 74.1,111.2 74.6,110.9 75.1,110.7 75.6,110.5 76.1,110.2 76.6,110.0 77.1,109.8 77.6,109.5 78.1,109.3 78.6,109.0 79.1,108.7 79.6,108.5 80.1,108.2 80.6,107.9 81.1,107.5 81.6,107.2 82.1,106.9 82.6,106.6 83.1,106.2 83.6,105.9 84.1,105.5 84.6,105.2 85.1,104.8 85.6,104.4 86.1,104.0 86.6,103.6 87.1,103.2 87.6,102.8 88.1,102.4 88.6,102.0 89.1,101.6 89.6,101.3 90.1,100.9 90.6,100.5 91.1,100.1 91.6,99.7 92.1,99.3 92.6,98.9 93.1,98.5 93.6,98.2 94.1,97.8 94.6,97.5 95.1,97.2 95.6,96.9 96.1,96.6 96.6,96.4 97.1,96.2 97.6,96.0 98.1,95.8 98.6,95.6 99.1,95.4 99.6,95.2 100.1,95.0 100.6,94.9 101.1,94.7 101.6,94.5 102.1,94.4 102.6,94.2 103.1,94.1 103.6,93.9 104.1,93.8 104.6,93.7 105.1,93.6 105.6,93.4 106.1,93.3 106.6,93.2 107.1,93.1 107.6,93.0 108.1,92.9 108.6,92.9 109.1,92.8 109.6,92.7 110.1,92.6 110.6,92.5 111.1,92.4 111.6,92.4 112.1,92.3 112.6,92.2 113.1,92.1 113.6,92.1 114.1,92.0 114.6,91.9 115.1,91.9 115.6,91.8 116.1,91.8 116.6,91.7 117.1,91.7 117.6,91.7 118.1,91.6 118.6,91.6 119.1,91.6 119.6,91.6 120.1,91.6 120.6,91.6 121.1,91.5 121.6,91.5 122.1,91.5 122.6,91.5 123.1,91.5 123.6,91.5 124.1,91.5 124.6,91.5 125.1,91.5 125.6,91.5 126.1,91.5 126.6,91.6 127.1,91.6 127.6,91.7 128.1,91.7 128.6,91.8 129.1,91.9 129.6,92.0 130.1,92.0 130.6,92.1 131.1,92.2 131.6,92.3 132.1,92.4 132.6,92.5 133.1,92.6 133.6,92.7 134.1,92.8 134.6,92.9 135.1,93.0 135.6,93.1 136.1,93.2 136.6,93.3 137.1,93.4 137.6,93.5 138.1,93.6 138.6,93.7 139.1,93.8 139.6,94.0 140.1,94.1 140.6,94.2 141.1,94.3 141.6,94.4 142.1,94.6 142.6,94.7 143.1,94.8 143.6,94.9 144.1,95.1 144.6,95.2 145.1,95.3 145.6,95.5 146.0,95.6" fill="none" stroke="#dc1c1c" stroke-width="1.9" stroke-linejoin="round" stroke-linecap="round"/>
<text x="1.50" y="10.90" font-size="11.6" text-anchor="start" fill="#000" font-weight="bold" stroke="#000" stroke-width="0.22">A</text>
<text x="14.40" y="126.60" font-size="9.2" text-anchor="start" fill="#000" font-weight="bold" stroke="#000" stroke-width="0.22" transform="rotate(-90 14.40 126.60)">Fluorescence intensity</text>
<text x="67.40" y="141.70" font-size="9.1" text-anchor="start" fill="#000" font-weight="bold" stroke="#000" stroke-width="0.22">Time (sec)</text>
<text x="101.70" y="28.60" font-size="10.45" text-anchor="start" fill="#000" font-weight="bold" stroke="#000" stroke-width="0.22">V. Ctl.</text>
<text x="150.60" y="55.90" font-size="10.1" text-anchor="start" fill="#000" font-weight="bold" stroke="#000" stroke-width="0.22" textLength="21.9" lengthAdjust="spacingAndGlyphs">1 μM</text>
<text x="150.40" y="105.10" font-size="10.1" text-anchor="start" fill="#000" font-weight="bold" stroke="#000" stroke-width="0.22" textLength="21.6" lengthAdjust="spacingAndGlyphs">3 μM</text>
<line x1="222.50" y1="27.90" x2="222.50" y2="123.80" stroke="#9a9a9a" stroke-width="0.8"/>
<line x1="222.50" y1="123.80" x2="326.00" y2="123.80" stroke="#9a9a9a" stroke-width="0.8"/>
<line x1="222.50" y1="123.80" x2="223.70" y2="123.80" stroke="#9a9a9a" stroke-width="0.6"/>
<text x="221.00" y="125.05" font-size="3.45" text-anchor="end" fill="#6a6a6a" font-weight="normal" stroke="#6a6a6a" stroke-width="0.28">0</text>
<line x1="222.50" y1="107.46" x2="223.70" y2="107.46" stroke="#9a9a9a" stroke-width="0.6"/>
<text x="221.00" y="108.71" font-size="3.45" text-anchor="end" fill="#6a6a6a" font-weight="normal" stroke="#6a6a6a" stroke-width="0.28">200</text>
<line x1="222.50" y1="91.12" x2="223.70" y2="91.12" stroke="#9a9a9a" stroke-width="0.6"/>
<text x="221.00" y="92.37" font-size="3.45" text-anchor="end" fill="#6a6a6a" font-weight="normal" stroke="#6a6a6a" stroke-width="0.28">400</text>
<line x1="222.50" y1="74.78" x2="223.70" y2="74.78" stroke="#9a9a9a" stroke-width="0.6"/>
<text x="221.00" y="76.03" font-size="3.45" text-anchor="end" fill="#6a6a6a" font-weight="normal" stroke="#6a6a6a" stroke-width="0.28">600</text>
<line x1="222.50" y1="58.44" x2="223.70" y2="58.44" stroke="#9a9a9a" stroke-width="0.6"/>
<text x="221.00" y="59.69" font-size="3.45" text-anchor="end" fill="#6a6a6a" font-weight="normal" stroke="#6a6a6a" stroke-width="0.28">800</text>
<line x1="222.50" y1="42.10" x2="223.70" y2="42.10" stroke="#9a9a9a" stroke-width="0.6"/>
<text x="221.00" y="43.35" font-size="3.45" text-anchor="end" fill="#6a6a6a" font-weight="normal" stroke="#6a6a6a" stroke-width="0.28">1000</text>
<line x1="222.10" y1="123.80" x2="222.10" y2="122.60" stroke="#9a9a9a" stroke-width="0.6"/>
<text x="222.10" y="128.80" font-size="3.45" text-anchor="middle" fill="#6a6a6a" font-weight="normal" stroke="#6a6a6a" stroke-width="0.28">-10</text>
<line x1="239.70" y1="123.80" x2="239.70" y2="122.60" stroke="#9a9a9a" stroke-width="0.6"/>
<text x="239.70" y="128.80" font-size="3.45" text-anchor="middle" fill="#6a6a6a" font-weight="normal" stroke="#6a6a6a" stroke-width="0.28">0</text>
<line x1="257.30" y1="123.80" x2="257.30" y2="122.60" stroke="#9a9a9a" stroke-width="0.6"/>
<text x="257.30" y="128.80" font-size="3.45" text-anchor="middle" fill="#6a6a6a" font-weight="normal" stroke="#6a6a6a" stroke-width="0.28">10</text>
<line x1="274.90" y1="123.80" x2="274.90" y2="122.60" stroke="#9a9a9a" stroke-width="0.6"/>
<text x="274.90" y="128.80" font-size="3.45" text-anchor="middle" fill="#6a6a6a" font-weight="normal" stroke="#6a6a6a" stroke-width="0.28">20</text>
<line x1="292.50" y1="123.80" x2="292.50" y2="122.60" stroke="#9a9a9a" stroke-width="0.6"/>
<text x="292.50" y="128.80" font-size="3.45" text-anchor="middle" fill="#6a6a6a" font-weight="normal" stroke="#6a6a6a" stroke-width="0.28">30</text>
<line x1="310.10" y1="123.80" x2="310.10" y2="122.60" stroke="#9a9a9a" stroke-width="0.6"/>
<text x="310.10" y="128.80" font-size="3.45" text-anchor="middle" fill="#6a6a6a" font-weight="normal" stroke="#6a6a6a" stroke-width="0.28">40</text>
<polygon points="239.7,123.8 240.5,123.4 241.3,122.9 242.1,122.5 242.9,122.1 243.7,121.6 244.5,121.2 245.3,120.7 246.1,120.2 246.9,119.7 247.7,119.2 248.5,118.7 249.3,118.2 250.1,117.7 250.9,117.4 251.7,117.0 252.5,116.7 253.3,116.4 254.1,116.1 254.9,115.8 255.7,115.5 256.5,115.2 257.3,114.9 258.1,114.6 258.9,114.3 259.7,114.1 260.5,113.8 261.3,113.5 262.1,113.3 262.9,113.0 263.7,112.8 264.5,112.6 265.3,112.3 266.1,112.1 266.9,111.9 267.7,111.7 268.5,111.5 269.3,111.2 270.1,111.0 270.9,110.8 271.7,110.6 272.5,110.4 273.3,110.2 274.1,110.0 274.9,109.8 275.7,109.7 276.5,109.5 277.3,109.3 278.1,109.1 278.9,108.9 279.7,108.8 280.5,108.6 281.3,108.4 282.1,108.2 282.9,108.0 283.7,107.8 284.5,107.6 285.3,107.4 286.1,107.2 286.9,107.0 287.7,106.8 288.5,106.6 289.3,106.4 290.1,106.2 290.9,105.7 291.7,105.1 292.5,104.5 293.3,103.9 294.1,103.2 294.9,102.0 295.7,99.8 296.5,97.4 297.3,95.8 298.1,95.6 298.9,95.9 299.7,96.2 300.5,96.4 301.3,96.1 302.1,95.0 302.9,93.4 303.7,92.1 304.5,91.2 305.3,90.5 306.1,89.9 306.9,89.4 307.7,88.9 308.5,88.4 309.3,87.9 310.1,87.4 310.9,86.9 311.7,86.4 312.5,85.8 313.3,85.1 314.1,84.3 314.9,83.5 315.7,82.8 316.5,82.4 317.3,82.6 318.1,83.7 318.9,84.3 319.7,83.2 320.5,80.2 321.0,77.8 321.0,93.8 320.5,96.2 319.7,99.0 318.9,100.1 318.1,99.3 317.3,98.2 316.5,97.8 315.7,98.1 314.9,98.7 314.1,99.4 313.3,100.2 312.5,100.8 311.7,101.2 310.9,101.7 310.1,102.1 309.3,102.4 308.5,102.8 307.7,103.2 306.9,103.6 306.1,104.1 305.3,104.6 304.5,105.1 303.7,105.8 302.9,107.0 302.1,108.3 301.3,109.3 300.5,109.4 299.7,109.0 298.9,108.5 298.1,108.1 297.3,108.1 296.5,109.5 295.7,111.5 294.9,113.1 294.1,113.6 293.3,113.6 292.5,113.6 291.7,113.5 290.9,113.4 290.1,113.3 289.3,113.4 288.5,113.5 287.7,113.7 286.9,113.8 286.1,114.0 285.3,114.2 284.5,114.3 283.7,114.5 282.9,114.7 282.1,114.8 281.3,115.0 280.5,115.1 279.7,115.2 278.9,115.4 278.1,115.5 277.3,115.7 276.5,115.8 275.7,115.9 274.9,116.1 274.1,116.2 273.3,116.4 272.5,116.5 271.7,116.7 270.9,116.9 270.1,117.0 269.3,117.2 268.5,117.3 267.7,117.5 266.9,117.6 266.1,117.8 265.3,118.0 264.5,118.1 263.7,118.3 262.9,118.5 262.1,118.7 261.3,118.8 260.5,119.0 259.7,119.2 258.9,119.4 258.1,119.7 257.3,119.9 256.5,120.1 255.7,120.3 254.9,120.6 254.1,120.8 253.3,121.1 252.5,121.3 251.7,121.6 250.9,121.9 250.1,122.1 249.3,122.3 248.5,122.5 247.7,122.6 246.9,122.8 246.1,123.0 245.3,123.1 244.5,123.2 243.7,123.3 242.9,123.4 242.1,123.5 241.3,123.6 240.5,123.7 239.7,123.8" fill="#c0f2b8"/>
<path d="M241.5 122.8V123.6M243.3 121.8V123.4M245.1 120.8V123.1M246.9 119.7V122.8M248.7 118.6V122.4M250.5 117.6V122.0M252.3 116.8V121.4M254.1 116.1V120.8M255.9 115.4V120.3M257.7 114.8V119.8M259.5 114.1V119.3M261.3 113.5V118.8M263.1 113.0V118.4M264.9 112.5V118.0M266.7 111.9V117.7M268.5 111.5V117.3M270.3 111.0V117.0M272.1 110.5V116.6M273.9 110.1V116.3M275.7 109.7V115.9M277.5 109.3V115.6M279.3 108.8V115.3M281.1 108.4V115.0M282.9 108.0V114.7M284.7 107.6V114.3M286.5 107.1V113.9M288.3 106.6V113.5M290.1 106.2V113.3M291.9 105.0V113.6M293.7 103.5V113.6M295.5 100.4V112.0M297.3 95.8V108.1M299.1 96.0V108.6M300.9 96.3V109.4M302.7 93.8V107.3M304.5 91.2V105.1M306.3 89.8V103.9M308.1 88.6V103.0M309.9 87.5V102.2M311.7 86.4V101.2M313.5 84.9V100.0M315.3 83.1V98.4M317.1 82.5V98.0M318.9 84.3V100.1M320.7 79.3V95.3" stroke="#90e090" stroke-width="0.5" fill="none"/>
<polyline points="239.7,123.8 240.5,123.4 241.3,122.9 242.1,122.5 242.9,122.1 243.7,121.6 244.5,121.2 245.3,120.7 246.1,120.2 246.9,119.7 247.7,119.2 248.5,118.7 249.3,118.2 250.1,117.7 250.9,117.4 251.7,117.0 252.5,116.7 253.3,116.4 254.1,116.1 254.9,115.8 255.7,115.5 256.5,115.2 257.3,114.9 258.1,114.6 258.9,114.3 259.7,114.1 260.5,113.8 261.3,113.5 262.1,113.3 262.9,113.0 263.7,112.8 264.5,112.6 265.3,112.3 266.1,112.1 266.9,111.9 267.7,111.7 268.5,111.5 269.3,111.2 270.1,111.0 270.9,110.8 271.7,110.6 272.5,110.4 273.3,110.2 274.1,110.0 274.9,109.8 275.7,109.7 276.5,109.5 277.3,109.3 278.1,109.1 278.9,108.9 279.7,108.8 280.5,108.6 281.3,108.4 282.1,108.2 282.9,108.0 283.7,107.8 284.5,107.6 285.3,107.4 286.1,107.2 286.9,107.0 287.7,106.8 288.5,106.6 289.3,106.4 290.1,106.2 290.9,105.7 291.7,105.1 292.5,104.5 293.3,103.9 294.1,103.2 294.9,102.0 295.7,99.8 296.5,97.4 297.3,95.8 298.1,95.6 298.9,95.9 299.7,96.2 300.5,96.4 301.3,96.1 302.1,95.0 302.9,93.4 303.7,92.1 304.5,91.2 305.3,90.5 306.1,89.9 306.9,89.4 307.7,88.9 308.5,88.4 309.3,87.9 310.1,87.4 310.9,86.9 311.7,86.4 312.5,85.8 313.3,85.1 314.1,84.3 314.9,83.5 315.7,82.8 316.5,82.4 317.3,82.6 318.1,83.7 318.9,84.3 319.7,83.2 320.5,80.2 321.0,77.8" fill="none" stroke="#88dc88" stroke-width="0.7" stroke-linejoin="round" stroke-linecap="round"/>
<polyline points="239.7,123.8 240.5,123.7 241.3,123.6 242.1,123.5 242.9,123.4 243.7,123.3 244.5,123.2 245.3,123.1 246.1,123.0 246.9,122.8 247.7,122.6 248.5,122.5 249.3,122.3 250.1,122.1 250.9,121.9 251.7,121.6 252.5,121.3 253.3,121.1 254.1,120.8 254.9,120.6 255.7,120.3 256.5,120.1 257.3,119.9 258.1,119.7 258.9,119.4 259.7,119.2 260.5,119.0 261.3,118.8 262.1,118.7 262.9,118.5 263.7,118.3 264.5,118.1 265.3,118.0 266.1,117.8 266.9,117.6 267.7,117.5 268.5,117.3 269.3,117.2 270.1,117.0 270.9,116.9 271.7,116.7 272.5,116.5 273.3,116.4 274.1,116.2 274.9,116.1 275.7,115.9 276.5,115.8 277.3,115.7 278.1,115.5 278.9,115.4 279.7,115.2 280.5,115.1 281.3,115.0 282.1,114.8 282.9,114.7 283.7,114.5 284.5,114.3 285.3,114.2 286.1,114.0 286.9,113.8 287.7,113.7 288.5,113.5 289.3,113.4 290.1,113.3 290.9,113.4 291.7,113.5 292.5,113.6 293.3,113.6 294.1,113.6 294.9,113.1 295.7,111.5 296.5,109.5 297.3,108.1 298.1,108.1 298.9,108.5 299.7,109.0 300.5,109.4 301.3,109.3 302.1,108.3 302.9,107.0 303.7,105.8 304.5,105.1 305.3,104.6 306.1,104.1 306.9,103.6 307.7,103.2 308.5,102.8 309.3,102.4 310.1,102.1 310.9,101.7 311.7,101.2 312.5,100.8 313.3,100.2 314.1,99.4 314.9,98.7 315.7,98.1 316.5,97.8 317.3,98.2 318.1,99.3 318.9,100.1 319.7,99.0 320.5,96.2 321.0,93.8" fill="none" stroke="#88dc88" stroke-width="0.7" stroke-linejoin="round" stroke-linecap="round"/>
<polygon points="239.7,123.8 240.5,122.9 241.3,122.0 242.1,121.1 242.9,120.2 243.7,119.4 244.5,118.6 245.3,117.8 246.1,117.1 246.9,116.4 247.7,115.7 248.5,115.1 249.3,114.5 250.1,113.8 250.9,113.1 251.7,112.4 252.5,111.6 253.3,110.8 254.1,109.8 254.9,108.7 255.7,107.6 256.5,106.4 257.3,105.3 258.1,104.1 258.9,103.1 259.7,102.2 260.5,101.2 261.3,100.4 262.1,99.5 262.9,98.7 263.7,97.9 264.5,97.1 265.3,96.3 266.1,95.5 266.9,94.6 267.7,93.8 268.5,93.0 269.3,92.2 270.1,91.3 270.9,90.5 271.7,89.7 272.5,88.9 273.3,88.1 274.1,87.3 274.9,86.6 275.7,85.8 276.5,85.0 277.3,84.2 278.1,83.5 278.9,82.7 279.7,81.9 280.5,81.1 281.3,80.3 282.1,79.5 282.9,78.8 283.7,78.0 284.5,77.3 285.3,76.6 286.1,75.9 286.9,75.2 287.7,74.5 288.5,73.9 289.3,73.2 290.1,72.6 290.9,72.0 291.7,71.3 292.5,70.7 293.3,70.0 294.1,69.3 294.9,68.6 295.7,67.9 296.5,67.1 297.3,66.4 298.1,65.7 298.9,64.9 299.7,64.1 300.5,63.4 301.3,62.6 302.1,61.8 302.9,61.1 303.7,60.3 304.5,59.6 305.3,58.8 306.1,57.9 306.9,56.8 307.7,55.6 308.5,54.2 309.3,52.0 310.1,49.4 310.9,47.0 311.7,45.6 312.5,44.4 313.3,43.7 314.1,43.5 314.9,43.3 315.7,43.2 316.5,43.0 317.3,42.8 318.1,42.7 318.9,42.5 319.7,42.4 320.5,42.1 321.3,41.5 322.0,40.9 322.0,63.9 321.3,64.2 320.5,64.5 319.7,64.4 318.9,64.3 318.1,64.1 317.3,64.0 316.5,63.8 315.7,63.6 314.9,63.5 314.1,63.3 313.3,63.2 312.5,63.6 311.7,64.4 310.9,65.6 310.1,67.5 309.3,69.8 308.5,71.7 307.7,72.8 306.9,73.6 306.1,74.3 305.3,75.0 304.5,75.6 303.7,76.2 302.9,76.8 302.1,77.5 301.3,78.1 300.5,78.8 299.7,79.5 298.9,80.2 298.1,80.8 297.3,81.5 296.5,82.1 295.7,82.8 294.9,83.4 294.1,84.0 293.3,84.6 292.5,85.2 291.7,85.8 290.9,86.3 290.1,86.9 289.3,87.4 288.5,87.9 287.7,88.5 286.9,89.0 286.1,89.5 285.3,90.0 284.5,90.6 283.7,91.2 282.9,91.8 282.1,92.4 281.3,93.0 280.5,93.7 279.7,94.3 278.9,95.0 278.1,95.6 277.3,96.2 276.5,96.9 275.7,97.5 274.9,98.1 274.1,98.7 273.3,99.3 272.5,100.0 271.7,100.6 270.9,101.1 270.1,101.7 269.3,102.3 268.5,102.8 267.7,103.4 266.9,103.9 266.1,104.5 265.3,105.0 264.5,105.6 263.7,106.1 262.9,106.7 262.1,107.2 261.3,107.8 260.5,108.4 259.7,109.0 258.9,109.7 258.1,110.5 257.3,111.3 256.5,112.2 255.7,113.1 254.9,114.0 254.1,114.8 253.3,115.5 252.5,116.1 251.7,116.6 250.9,117.0 250.1,117.4 249.3,117.8 248.5,118.2 247.7,118.5 246.9,118.9 246.1,119.3 245.3,119.7 244.5,120.2 243.7,120.8 242.9,121.3 242.1,121.9 241.3,122.5 240.5,123.2 239.7,123.8" fill="#b0b0ee"/>
<path d="M241.5 121.7V122.4M243.3 119.8V121.0M245.1 118.0V119.9M246.9 116.4V118.9M248.7 114.9V118.1M250.5 113.5V117.2M252.3 111.8V116.2M254.1 109.8V114.8M255.9 107.3V112.9M257.7 104.7V110.9M259.5 102.4V109.2M261.3 100.4V107.8M263.1 98.5V106.5M264.9 96.7V105.3M266.7 94.8V104.1M268.5 93.0V102.8M270.3 91.1V101.5M272.1 89.3V100.3M273.9 87.5V98.9M275.7 85.8V97.5M277.5 84.0V96.1M279.3 82.3V94.6M281.1 80.5V93.2M282.9 78.8V91.8M284.7 77.1V90.5M286.5 75.5V89.2M288.3 74.0V88.1M290.1 72.6V86.9M291.9 71.2V85.6M293.7 69.6V84.3M295.5 68.0V82.9M297.3 66.4V81.5M299.1 64.7V80.0M300.9 63.0V78.5M302.7 61.2V77.0M304.5 59.6V75.6M306.3 57.6V74.2M308.1 55.0V72.3M309.9 50.0V68.1M311.7 45.6V64.4M313.5 43.6V63.2M315.3 43.2V63.6M317.1 42.9V63.9M318.9 42.5V64.3M320.7 42.0V64.5" stroke="#9494d8" stroke-width="0.5" fill="none"/>
<polyline points="239.7,123.8 240.5,122.9 241.3,122.0 242.1,121.1 242.9,120.2 243.7,119.4 244.5,118.6 245.3,117.8 246.1,117.1 246.9,116.4 247.7,115.7 248.5,115.1 249.3,114.5 250.1,113.8 250.9,113.1 251.7,112.4 252.5,111.6 253.3,110.8 254.1,109.8 254.9,108.7 255.7,107.6 256.5,106.4 257.3,105.3 258.1,104.1 258.9,103.1 259.7,102.2 260.5,101.2 261.3,100.4 262.1,99.5 262.9,98.7 263.7,97.9 264.5,97.1 265.3,96.3 266.1,95.5 266.9,94.6 267.7,93.8 268.5,93.0 269.3,92.2 270.1,91.3 270.9,90.5 271.7,89.7 272.5,88.9 273.3,88.1 274.1,87.3 274.9,86.6 275.7,85.8 276.5,85.0 277.3,84.2 278.1,83.5 278.9,82.7 279.7,81.9 280.5,81.1 281.3,80.3 282.1,79.5 282.9,78.8 283.7,78.0 284.5,77.3 285.3,76.6 286.1,75.9 286.9,75.2 287.7,74.5 288.5,73.9 289.3,73.2 290.1,72.6 290.9,72.0 291.7,71.3 292.5,70.7 293.3,70.0 294.1,69.3 294.9,68.6 295.7,67.9 296.5,67.1 297.3,66.4 298.1,65.7 298.9,64.9 299.7,64.1 300.5,63.4 301.3,62.6 302.1,61.8 302.9,61.1 303.7,60.3 304.5,59.6 305.3,58.8 306.1,57.9 306.9,56.8 307.7,55.6 308.5,54.2 309.3,52.0 310.1,49.4 310.9,47.0 311.7,45.6 312.5,44.4 313.3,43.7 314.1,43.5 314.9,43.3 315.7,43.2 316.5,43.0 317.3,42.8 318.1,42.7 318.9,42.5 319.7,42.4 320.5,42.1 321.3,41.5 322.0,40.9" fill="none" stroke="#8080c8" stroke-width="0.7" stroke-linejoin="round" stroke-linecap="round"/>
<polyline points="239.7,123.8 240.5,123.2 241.3,122.5 242.1,121.9 242.9,121.3 243.7,120.8 244.5,120.2 245.3,119.7 246.1,119.3 246.9,118.9 247.7,118.5 248.5,118.2 249.3,117.8 250.1,117.4 250.9,117.0 251.7,116.6 252.5,116.1 253.3,115.5 254.1,114.8 254.9,114.0 255.7,113.1 256.5,112.2 257.3,111.3 258.1,110.5 258.9,109.7 259.7,109.0 260.5,108.4 261.3,107.8 262.1,107.2 262.9,106.7 263.7,106.1 264.5,105.6 265.3,105.0 266.1,104.5 266.9,103.9 267.7,103.4 268.5,102.8 269.3,102.3 270.1,101.7 270.9,101.1 271.7,100.6 272.5,100.0 273.3,99.3 274.1,98.7 274.9,98.1 275.7,97.5 276.5,96.9 277.3,96.2 278.1,95.6 278.9,95.0 279.7,94.3 280.5,93.7 281.3,93.0 282.1,92.4 282.9,91.8 283.7,91.2 284.5,90.6 285.3,90.0 286.1,89.5 286.9,89.0 287.7,88.5 288.5,87.9 289.3,87.4 290.1,86.9 290.9,86.3 291.7,85.8 292.5,85.2 293.3,84.6 294.1,84.0 294.9,83.4 295.7,82.8 296.5,82.1 297.3,81.5 298.1,80.8 298.9,80.2 299.7,79.5 300.5,78.8 301.3,78.1 302.1,77.5 302.9,76.8 303.7,76.2 304.5,75.6 305.3,75.0 306.1,74.3 306.9,73.6 307.7,72.8 308.5,71.7 309.3,69.8 310.1,67.5 310.9,65.6 311.7,64.4 312.5,63.6 313.3,63.2 314.1,63.3 314.9,63.5 315.7,63.6 316.5,63.8 317.3,64.0 318.1,64.1 318.9,64.3 319.7,64.4 320.5,64.5 321.3,64.2 322.0,63.9" fill="none" stroke="#8080c8" stroke-width="0.7" stroke-linejoin="round" stroke-linecap="round"/>
<polyline points="239.7,123.8 240.3,123.6 240.9,123.4 241.5,123.2 242.1,123.0 242.7,122.8 243.3,122.6 243.9,122.4 244.5,122.2 245.1,122.0 245.7,121.7 246.3,121.5 246.9,121.3 247.5,121.0 248.1,120.8 248.7,120.5 249.3,120.3 249.9,120.0 250.5,119.8 251.1,119.5 251.7,119.3 252.3,119.1 252.9,118.9 253.5,118.7 254.1,118.4 254.7,118.2 255.3,118.0 255.9,117.8 256.5,117.6 257.1,117.5 257.7,117.3 258.3,117.1 258.9,116.9 259.5,116.7 260.1,116.5 260.7,116.4 261.3,116.2 261.9,116.0 262.5,115.9 263.1,115.7 263.7,115.6 264.3,115.4 264.9,115.2 265.5,115.1 266.1,115.0 266.7,114.8 267.3,114.7 267.9,114.5 268.5,114.4 269.1,114.3 269.7,114.1 270.3,114.0 270.9,113.8 271.5,113.7 272.1,113.6 272.7,113.4 273.3,113.3 273.9,113.2 274.5,113.1 275.1,112.9 275.7,112.8 276.3,112.7 276.9,112.6 277.5,112.4 278.1,112.3 278.7,112.2 279.3,112.1 279.9,112.0 280.5,111.8 281.1,111.7 281.7,111.6 282.3,111.5 282.9,111.3 283.5,111.2 284.1,111.1 284.7,110.9 285.3,110.8 285.9,110.6 286.5,110.5 287.1,110.4 287.7,110.2 288.3,110.1 288.9,110.0 289.5,109.8 290.1,109.7 290.7,109.6 291.3,109.4 291.9,109.3 292.5,109.1 293.1,108.8 293.7,108.6 294.3,108.3 294.9,107.6 295.5,106.2 296.1,104.5 296.7,102.9 297.3,101.9 297.9,101.8 298.5,102.0 299.1,102.3 299.7,102.6 300.3,102.8 300.9,102.9 301.5,102.5 302.1,101.6 302.7,100.6 303.3,99.5 303.9,98.7 304.5,98.2 305.1,97.7 305.7,97.3 306.3,96.9 306.9,96.5 307.5,96.1 308.1,95.8 308.7,95.5 309.3,95.2 309.9,94.8 310.5,94.5 311.1,94.2 311.7,93.8 312.3,93.4 312.9,93.0 313.5,92.5 314.1,91.9 314.7,91.3 315.3,90.8 315.9,90.4 316.5,90.1 317.1,90.2 317.7,90.9 318.3,91.8 318.9,92.2 319.5,91.6 320.1,89.8 320.7,87.3 321.0,85.8" fill="none" stroke="#1ee41e" stroke-width="1.9" stroke-linejoin="round" stroke-linecap="round"/>
<polyline points="239.7,123.8 240.3,123.2 240.9,122.6 241.5,122.1 242.1,121.5 242.7,121.0 243.3,120.4 243.9,119.9 244.5,119.4 245.1,118.9 245.7,118.5 246.3,118.0 246.9,117.6 247.5,117.3 248.1,116.9 248.7,116.5 249.3,116.1 249.9,115.8 250.5,115.4 251.1,114.9 251.7,114.5 252.3,114.0 252.9,113.5 253.5,112.9 254.1,112.3 254.7,111.6 255.3,110.8 255.9,110.1 256.5,109.3 257.1,108.5 257.7,107.8 258.3,107.1 258.9,106.4 259.5,105.8 260.1,105.2 260.7,104.6 261.3,104.1 261.9,103.5 262.5,103.0 263.1,102.5 263.7,102.0 264.3,101.5 264.9,101.0 265.5,100.5 266.1,100.0 266.7,99.5 267.3,98.9 267.9,98.4 268.5,97.9 269.1,97.4 269.7,96.9 270.3,96.3 270.9,95.8 271.5,95.3 272.1,94.8 272.7,94.2 273.3,93.7 273.9,93.2 274.5,92.7 275.1,92.2 275.7,91.6 276.3,91.1 276.9,90.6 277.5,90.1 278.1,89.5 278.7,89.0 279.3,88.5 279.9,87.9 280.5,87.4 281.1,86.9 281.7,86.3 282.3,85.8 282.9,85.3 283.5,84.8 284.1,84.3 284.7,83.8 285.3,83.3 285.9,82.8 286.5,82.4 287.1,81.9 287.7,81.5 288.3,81.0 288.9,80.6 289.5,80.2 290.1,79.7 290.7,79.3 291.3,78.8 291.9,78.4 292.5,77.9 293.1,77.5 293.7,77.0 294.3,76.5 294.9,76.0 295.5,75.5 296.1,75.0 296.7,74.5 297.3,74.0 297.9,73.4 298.5,72.9 299.1,72.4 299.7,71.8 300.3,71.3 300.9,70.7 301.5,70.2 302.1,69.6 302.7,69.1 303.3,68.6 303.9,68.1 304.5,67.6 305.1,67.1 305.7,66.5 306.3,65.9 306.9,65.2 307.5,64.5 308.1,63.6 308.7,62.5 309.3,60.9 309.9,59.1 310.5,57.3 311.1,55.9 311.7,55.0 312.3,54.3 312.9,53.7 313.5,53.4 314.1,53.4 314.7,53.4 315.3,53.4 315.9,53.4 316.5,53.4 317.1,53.4 317.7,53.4 318.3,53.4 318.9,53.4 319.5,53.4 320.1,53.4 320.7,53.2 321.3,52.9 321.9,52.5 322.0,52.4" fill="none" stroke="#0c0cc4" stroke-width="2.0" stroke-linejoin="round" stroke-linecap="round"/>
<text x="193.80" y="11.20" font-size="10.6" text-anchor="start" fill="#000" font-weight="bold" stroke="#000" stroke-width="0.22">B</text>
<text x="209.20" y="121.70" font-size="9.15" text-anchor="start" fill="#000" font-weight="bold" stroke="#000" stroke-width="0.22" transform="rotate(-90 209.20 121.70)">Fluorescence intensity</text>
<text x="258.70" y="143.90" font-size="9.1" text-anchor="start" fill="#000" font-weight="bold" stroke="#000" stroke-width="0.22">Time (sec)</text>
<text x="299.40" y="39.70" font-size="10.45" text-anchor="start" fill="#000" font-weight="bold" stroke="#000" stroke-width="0.22">V. Ctl.</text>
<text x="289.60" y="115.70" font-size="10.6" text-anchor="start" fill="#1e7a26" font-weight="bold" stroke="#1e7a26" stroke-width="0.22" textLength="52.6" lengthAdjust="spacingAndGlyphs">PRT060318</text>
<polyline points="400.8,28.3 411.2,28.3 411.9,31.5 412.4,38.0 413.2,53.8 446.3,53.8 446.3,60.2 495.5,60.2" fill="none" stroke="#38dc38" stroke-width="1.7" stroke-linejoin="round" stroke-linecap="round" stroke-linejoin="miter" stroke-linecap="butt"/>
<polyline points="400.8,28.3 405.6,28.3 405.6,34.4 408.4,34.4 408.4,53.6 411.2,53.6 411.2,60.0 412.3,60.0 412.3,67.0 413.2,67.0 413.2,73.5 414.2,73.5 414.2,80.5 415.5,80.5 415.5,86.6 418.0,86.6 418.0,92.6 433.3,92.6 433.3,99.0 495.5,99.0" fill="none" stroke="#1616cc" stroke-width="1.7" stroke-linejoin="round" stroke-linecap="round" stroke-linejoin="miter" stroke-linecap="butt"/>
<circle cx="495.5" cy="60.2" r="1.1" fill="#000"/>
<circle cx="495.5" cy="99" r="1.1" fill="#000"/>
<line x1="400.80" y1="23.50" x2="400.80" y2="125.90" stroke="#000" stroke-width="1.3"/>
<line x1="400.20" y1="125.30" x2="512.30" y2="125.30" stroke="#000" stroke-width="1.3"/>
<line x1="398.80" y1="125.30" x2="400.80" y2="125.30" stroke="#000" stroke-width="1"/>
<text x="398.40" y="127.90" font-size="7.4" text-anchor="end" fill="#000" font-weight="bold" stroke="#000" stroke-width="0.22">0.0</text>
<line x1="398.80" y1="105.90" x2="400.80" y2="105.90" stroke="#000" stroke-width="1"/>
<text x="398.40" y="108.50" font-size="7.4" text-anchor="end" fill="#000" font-weight="bold" stroke="#000" stroke-width="0.22">0.2</text>
<line x1="398.80" y1="86.50" x2="400.80" y2="86.50" stroke="#000" stroke-width="1"/>
<text x="398.40" y="89.10" font-size="7.4" text-anchor="end" fill="#000" font-weight="bold" stroke="#000" stroke-width="0.22">0.4</text>
<line x1="398.80" y1="67.10" x2="400.80" y2="67.10" stroke="#000" stroke-width="1"/>
<text x="398.40" y="69.70" font-size="7.4" text-anchor="end" fill="#000" font-weight="bold" stroke="#000" stroke-width="0.22">0.6</text>
<line x1="398.80" y1="47.70" x2="400.80" y2="47.70" stroke="#000" stroke-width="1"/>
<text x="398.40" y="50.30" font-size="7.4" text-anchor="end" fill="#000" font-weight="bold" stroke="#000" stroke-width="0.22">0.8</text>
<line x1="398.80" y1="28.30" x2="400.80" y2="28.30" stroke="#000" stroke-width="1"/>
<text x="398.40" y="30.90" font-size="7.4" text-anchor="end" fill="#000" font-weight="bold" stroke="#000" stroke-width="0.22">1.0</text>
<line x1="400.80" y1="125.30" x2="400.80" y2="127.30" stroke="#000" stroke-width="1"/>
<text x="402.10" y="136.00" font-size="7.0" text-anchor="middle" fill="#000" font-weight="bold" stroke="#000" stroke-width="0.22">0</text>
<line x1="416.66" y1="125.30" x2="416.66" y2="127.30" stroke="#000" stroke-width="1"/>
<text x="417.96" y="136.00" font-size="7.0" text-anchor="middle" fill="#000" font-weight="bold" stroke="#000" stroke-width="0.22">10</text>
<line x1="432.52" y1="125.30" x2="432.52" y2="127.30" stroke="#000" stroke-width="1"/>
<text x="433.82" y="136.00" font-size="7.0" text-anchor="middle" fill="#000" font-weight="bold" stroke="#000" stroke-width="0.22">20</text>
<line x1="448.38" y1="125.30" x2="448.38" y2="127.30" stroke="#000" stroke-width="1"/>
<text x="449.68" y="136.00" font-size="7.0" text-anchor="middle" fill="#000" font-weight="bold" stroke="#000" stroke-width="0.22">30</text>
<line x1="464.24" y1="125.30" x2="464.24" y2="127.30" stroke="#000" stroke-width="1"/>
<text x="465.54" y="136.00" font-size="7.0" text-anchor="middle" fill="#000" font-weight="bold" stroke="#000" stroke-width="0.22">40</text>
<line x1="480.10" y1="125.30" x2="480.10" y2="127.30" stroke="#000" stroke-width="1"/>
<text x="481.40" y="136.00" font-size="7.0" text-anchor="middle" fill="#000" font-weight="bold" stroke="#000" stroke-width="0.22">50</text>
<line x1="495.96" y1="125.30" x2="495.96" y2="127.30" stroke="#000" stroke-width="1"/>
<text x="497.26" y="136.00" font-size="7.0" text-anchor="middle" fill="#000" font-weight="bold" stroke="#000" stroke-width="0.22">60</text>
<line x1="511.82" y1="125.30" x2="511.82" y2="127.30" stroke="#000" stroke-width="1"/>
<text x="513.12" y="136.00" font-size="7.0" text-anchor="middle" fill="#000" font-weight="bold" stroke="#000" stroke-width="0.22">70</text>
<text x="370.50" y="11.40" font-size="10.6" text-anchor="start" fill="#000" font-weight="bold" stroke="#000" stroke-width="0.22">C</text>
<text x="382.70" y="121.00" font-size="9.07" text-anchor="start" fill="#000" font-weight="bold" stroke="#000" stroke-width="0.22" transform="rotate(-90 382.70 121.00)">Ratio of Non-occlusion</text>
<text x="431.60" y="148.60" font-size="9.1" text-anchor="start" fill="#000" font-weight="bold" stroke="#000" stroke-width="0.22">Time (min)</text>
<text x="448.00" y="51.90" font-size="10.7" text-anchor="start" fill="#1e7a26" font-weight="bold" stroke="#1e7a26" stroke-width="0.22" textLength="52.8" lengthAdjust="spacingAndGlyphs">PRT060318</text>
<text x="463.00" y="93.30" font-size="10.1" text-anchor="start" fill="#000" font-weight="bold" stroke="#000" stroke-width="0.22">V. Ctl.</text>
<line x1="111.40" y1="170.60" x2="111.40" y2="273.90" stroke="#9a9a9a" stroke-width="0.8"/>
<line x1="111.40" y1="273.90" x2="227.20" y2="273.90" stroke="#9a9a9a" stroke-width="0.8"/>
<line x1="111.40" y1="273.90" x2="112.60" y2="273.90" stroke="#9a9a9a" stroke-width="0.6"/>
<text x="109.90" y="275.15" font-size="3.45" text-anchor="end" fill="#6a6a6a" font-weight="normal" stroke="#6a6a6a" stroke-width="0.28">0</text>
<line x1="111.40" y1="258.54" x2="112.60" y2="258.54" stroke="#9a9a9a" stroke-width="0.6"/>
<text x="109.90" y="259.79" font-size="3.45" text-anchor="end" fill="#6a6a6a" font-weight="normal" stroke="#6a6a6a" stroke-width="0.28">200</text>
<line x1="111.40" y1="243.18" x2="112.60" y2="243.18" stroke="#9a9a9a" stroke-width="0.6"/>
<text x="109.90" y="244.43" font-size="3.45" text-anchor="end" fill="#6a6a6a" font-weight="normal" stroke="#6a6a6a" stroke-width="0.28">400</text>
<line x1="111.40" y1="227.82" x2="112.60" y2="227.82" stroke="#9a9a9a" stroke-width="0.6"/>
<text x="109.90" y="229.07" font-size="3.45" text-anchor="end" fill="#6a6a6a" font-weight="normal" stroke="#6a6a6a" stroke-width="0.28">600</text>
<line x1="111.40" y1="212.46" x2="112.60" y2="212.46" stroke="#9a9a9a" stroke-width="0.6"/>
<text x="109.90" y="213.71" font-size="3.45" text-anchor="end" fill="#6a6a6a" font-weight="normal" stroke="#6a6a6a" stroke-width="0.28">800</text>
<line x1="111.40" y1="197.10" x2="112.60" y2="197.10" stroke="#9a9a9a" stroke-width="0.6"/>
<text x="109.90" y="198.35" font-size="3.45" text-anchor="end" fill="#6a6a6a" font-weight="normal" stroke="#6a6a6a" stroke-width="0.28">1000</text>
<line x1="111.40" y1="181.74" x2="112.60" y2="181.74" stroke="#9a9a9a" stroke-width="0.6"/>
<text x="109.90" y="182.99" font-size="3.45" text-anchor="end" fill="#6a6a6a" font-weight="normal" stroke="#6a6a6a" stroke-width="0.28">1200</text>
<line x1="111.40" y1="273.90" x2="111.40" y2="272.70" stroke="#9a9a9a" stroke-width="0.6"/>
<text x="111.40" y="278.90" font-size="3.45" text-anchor="middle" fill="#6a6a6a" font-weight="normal" stroke="#6a6a6a" stroke-width="0.28">0</text>
<line x1="131.62" y1="273.90" x2="131.62" y2="272.70" stroke="#9a9a9a" stroke-width="0.6"/>
<text x="131.62" y="278.90" font-size="3.45" text-anchor="middle" fill="#6a6a6a" font-weight="normal" stroke="#6a6a6a" stroke-width="0.28">50</text>
<line x1="151.85" y1="273.90" x2="151.85" y2="272.70" stroke="#9a9a9a" stroke-width="0.6"/>
<text x="151.85" y="278.90" font-size="3.45" text-anchor="middle" fill="#6a6a6a" font-weight="normal" stroke="#6a6a6a" stroke-width="0.28">100</text>
<line x1="172.08" y1="273.90" x2="172.08" y2="272.70" stroke="#9a9a9a" stroke-width="0.6"/>
<text x="172.08" y="278.90" font-size="3.45" text-anchor="middle" fill="#6a6a6a" font-weight="normal" stroke="#6a6a6a" stroke-width="0.28">150</text>
<line x1="192.30" y1="273.90" x2="192.30" y2="272.70" stroke="#9a9a9a" stroke-width="0.6"/>
<text x="192.30" y="278.90" font-size="3.45" text-anchor="middle" fill="#6a6a6a" font-weight="normal" stroke="#6a6a6a" stroke-width="0.28">200</text>
<line x1="212.53" y1="273.90" x2="212.53" y2="272.70" stroke="#9a9a9a" stroke-width="0.6"/>
<text x="212.53" y="278.90" font-size="3.45" text-anchor="middle" fill="#6a6a6a" font-weight="normal" stroke="#6a6a6a" stroke-width="0.28">250</text>
<polygon points="112.0,273.9 112.8,273.8 113.6,273.8 114.4,273.7 115.2,273.7 116.0,273.7 116.8,273.6 117.6,273.6 118.4,273.5 119.2,273.5 120.0,273.5 120.8,273.4 121.6,273.4 122.4,273.3 123.2,273.3 124.0,273.3 124.8,273.2 125.6,272.9 126.4,272.4 127.2,272.0 128.0,271.6 128.8,271.1 129.6,270.7 130.4,270.3 131.2,269.9 132.0,269.4 132.8,269.0 133.6,268.6 134.4,268.1 135.2,267.7 136.0,267.2 136.8,266.8 137.6,266.4 138.4,265.9 139.2,265.5 140.0,265.0 140.8,264.6 141.6,264.1 142.4,263.7 143.2,263.3 144.0,262.8 144.8,262.4 145.6,261.9 146.4,261.5 147.2,261.0 148.0,260.6 148.8,260.1 149.6,259.7 150.4,259.2 151.2,258.8 152.0,258.3 152.8,257.9 153.6,257.4 154.4,256.9 155.2,256.5 156.0,255.9 156.8,255.4 157.6,254.9 158.4,254.4 159.2,253.8 160.0,253.3 160.8,252.8 161.6,252.3 162.4,251.8 163.2,251.2 164.0,250.8 164.8,250.4 165.6,250.1 166.4,249.8 167.2,249.4 168.0,249.1 168.8,248.8 169.6,248.4 170.4,248.1 171.2,247.8 172.0,247.4 172.8,247.3 173.6,247.3 174.4,247.3 175.2,247.3 176.0,247.3 176.8,247.3 177.6,247.3 178.4,247.4 179.2,247.7 180.0,248.0 180.8,248.3 181.6,248.6 182.4,248.9 183.2,249.1 184.0,249.5 184.8,250.3 185.6,251.1 186.4,251.9 187.2,252.8 188.0,253.6 188.8,254.4 189.6,255.2 190.4,255.3 191.2,255.5 192.0,255.6 192.8,255.7 193.6,255.8 194.4,256.0 195.2,256.1 196.0,256.2 196.8,256.4 197.6,256.5 198.4,256.6 199.2,256.8 200.0,256.9 200.8,257.0 201.6,257.2 202.4,257.3 203.2,257.4 204.0,257.6 204.8,257.7 205.6,257.9 206.4,258.0 207.2,258.1 208.0,258.3 208.8,258.5 209.6,258.7 210.4,258.9 211.2,259.1 212.0,259.3 212.8,259.5 213.6,259.7 214.4,259.9 215.2,260.1 216.0,260.3 216.8,260.5 217.6,260.7 218.4,260.9 219.2,261.1 220.0,261.3 220.8,261.5 221.6,261.7 222.4,261.9 223.2,262.1 224.0,262.3 224.3,262.4 224.3,270.4 224.0,270.4 223.2,270.4 222.4,270.4 221.6,270.4 220.8,270.3 220.0,270.3 219.2,270.3 218.4,270.3 217.6,270.3 216.8,270.3 216.0,270.3 215.2,270.3 214.4,270.2 213.6,270.2 212.8,270.2 212.0,270.2 211.2,270.2 210.4,270.2 209.6,270.2 208.8,270.2 208.0,270.1 207.2,270.1 206.4,270.1 205.6,270.1 204.8,270.1 204.0,270.1 203.2,270.1 202.4,270.0 201.6,270.0 200.8,270.0 200.0,270.0 199.2,270.0 198.4,270.0 197.6,270.0 196.8,270.0 196.0,269.9 195.2,269.9 194.4,269.9 193.6,269.9 192.8,269.9 192.0,269.9 191.2,269.9 190.4,269.9 189.6,269.8 188.8,269.8 188.0,269.8 187.2,269.8 186.4,269.8 185.6,269.8 184.8,269.8 184.0,269.8 183.2,269.7 182.4,269.7 181.6,269.7 180.8,269.7 180.0,269.7 179.2,269.7 178.4,269.7 177.6,269.6 176.8,269.6 176.0,269.6 175.2,269.6 174.4,269.6 173.6,269.6 172.8,269.7 172.0,269.7 171.2,269.7 170.4,269.8 169.6,269.8 168.8,269.8 168.0,269.9 167.2,269.9 166.4,269.9 165.6,270.0 164.8,270.0 164.0,270.0 163.2,270.1 162.4,270.1 161.6,270.1 160.8,270.2 160.0,270.2 159.2,270.2 158.4,270.3 157.6,270.3 156.8,270.3 156.0,270.4 155.2,270.4 154.4,270.4 153.6,270.4 152.8,270.4 152.0,270.4 151.2,270.4 150.4,270.4 149.6,270.3 148.8,270.3 148.0,270.3 147.2,270.3 146.4,270.3 145.6,270.3 144.8,270.5 144.0,270.6 143.2,270.8 142.4,271.0 141.6,271.2 140.8,271.3 140.0,271.5 139.2,271.7 138.4,271.9 137.6,272.1 136.8,272.3 136.0,272.5 135.2,272.7 134.4,272.8 133.6,273.0 132.8,273.2 132.0,273.4 131.2,273.6 130.4,273.8 129.6,273.9 128.8,273.9 128.0,273.9 127.2,273.9 126.4,273.9 125.6,273.9 124.8,273.9 124.0,273.9 123.2,273.9 122.4,273.9 121.6,273.9 120.8,273.9 120.0,273.9 119.2,273.9 118.4,273.9 117.6,273.9 116.8,273.9 116.0,273.9 115.2,273.9 114.4,273.9 113.6,273.9 112.8,273.9 112.0,273.9" fill="#eefaea"/>
<path d="M224.3 262.4V270.4M221.9 261.8V270.4M219.6 261.2V270.3M217.2 260.6V270.3M214.8 260.0V270.2M212.4 259.5V270.2M210.1 258.9V270.2M207.7 258.3V270.1M205.3 257.8V270.1M203.0 257.4V270.1M200.6 257.0V270.0M198.2 256.6V270.0M195.9 256.2V269.9M193.5 255.8V269.9M191.1 255.4V269.9M188.7 254.3V269.8M186.4 251.9V269.8M184.0 249.5V269.8M181.6 248.6V269.7M179.3 247.7V269.7M176.9 247.3V269.6M174.5 247.3V269.6M172.2 247.4V269.7M169.8 248.4V269.8M167.4 249.3V269.9M165.0 250.3V270.0M162.7 251.6V270.1M160.3 253.1V270.2M157.9 254.7V270.3M155.6 256.2V270.4M153.2 257.6V270.4M150.8 259.0V270.4M148.5 260.3V270.3M146.1 261.7V270.3M143.7 263.0V270.7M141.3 264.3V271.2M139.0 265.6V271.7M136.6 266.9V272.3M134.2 268.2V272.9M131.9 269.5V273.5M129.5 270.8V273.9M127.1 272.0V273.9M124.8 273.2V273.9M122.4 273.3V273.9M120.0 273.5V273.9M117.6 273.6V273.9" stroke="#a6e69c" stroke-width="0.6" fill="none"/>
<path d="M223.6 262.4h1.5M223.6 270.4h1.5M221.2 261.8h1.5M221.2 270.4h1.5M218.8 261.2h1.5M218.8 270.3h1.5M216.4 260.6h1.5M216.4 270.3h1.5M214.1 260.0h1.5M214.1 270.2h1.5M211.7 259.5h1.5M211.7 270.2h1.5M209.3 258.9h1.5M209.3 270.2h1.5M207.0 258.3h1.5M207.0 270.1h1.5M204.6 257.8h1.5M204.6 270.1h1.5M202.2 257.4h1.5M202.2 270.1h1.5M199.8 257.0h1.5M199.8 270.0h1.5M197.5 256.6h1.5M197.5 270.0h1.5M195.1 256.2h1.5M195.1 269.9h1.5M192.7 255.8h1.5M192.7 269.9h1.5M190.4 255.4h1.5M190.4 269.9h1.5M188.0 254.3h1.5M188.0 269.8h1.5M185.6 251.9h1.5M185.6 269.8h1.5M183.3 249.5h1.5M183.3 269.8h1.5M180.9 248.6h1.5M180.9 269.7h1.5M178.5 247.7h1.5M178.5 269.7h1.5M176.1 247.3h1.5M176.1 269.6h1.5M173.8 247.3h1.5M173.8 269.6h1.5M171.4 247.4h1.5M171.4 269.7h1.5M169.0 248.4h1.5M169.0 269.8h1.5M166.7 249.3h1.5M166.7 269.9h1.5M164.3 250.3h1.5M164.3 270.0h1.5M161.9 251.6h1.5M161.9 270.1h1.5M159.6 253.1h1.5M159.6 270.2h1.5M157.2 254.7h1.5M157.2 270.3h1.5M154.8 256.2h1.5M154.8 270.4h1.5M152.4 257.6h1.5M152.4 270.4h1.5M150.1 259.0h1.5M150.1 270.4h1.5M147.7 260.3h1.5M147.7 270.3h1.5M145.3 261.7h1.5M145.3 270.3h1.5M143.0 263.0h1.5M143.0 270.7h1.5M140.6 264.3h1.5M140.6 271.2h1.5M138.2 265.6h1.5M138.2 271.7h1.5M135.9 266.9h1.5M135.9 272.3h1.5M133.5 268.2h1.5M133.5 272.9h1.5M131.1 269.5h1.5M131.1 273.5h1.5M128.7 270.8h1.5M128.7 273.9h1.5M126.4 272.0h1.5M126.4 273.9h1.5M124.0 273.2h1.5M124.0 273.9h1.5M121.6 273.3h1.5M121.6 273.9h1.5M119.3 273.5h1.5M119.3 273.9h1.5M116.9 273.6h1.5M116.9 273.9h1.5" stroke="#88cc80" stroke-width="0.6" fill="none"/>
<polygon points="112.0,273.8 112.8,273.7 113.6,273.7 114.4,273.6 115.2,273.5 116.0,273.4 116.8,273.3 117.6,273.2 118.4,273.1 119.2,273.0 120.0,272.9 120.8,272.8 121.6,272.7 122.4,272.6 123.2,272.5 124.0,272.4 124.8,272.3 125.6,271.9 126.4,271.3 127.2,270.7 128.0,270.1 128.8,269.5 129.6,269.0 130.4,268.4 131.2,267.8 132.0,267.2 132.8,266.7 133.6,266.1 134.4,265.1 135.2,264.1 136.0,263.0 136.8,262.0 137.6,261.0 138.4,259.9 139.2,258.9 140.0,257.8 140.8,256.8 141.6,255.8 142.4,254.7 143.2,253.7 144.0,252.7 144.8,251.7 145.6,250.7 146.4,249.7 147.2,248.7 148.0,247.7 148.8,246.9 149.6,246.1 150.4,245.3 151.2,244.5 152.0,243.7 152.8,242.9 153.6,242.0 154.4,241.1 155.2,240.2 156.0,239.3 156.8,238.4 157.6,237.4 158.4,236.2 159.2,235.1 160.0,233.9 160.8,232.7 161.6,231.6 162.4,230.4 163.2,229.2 164.0,228.1 164.8,226.9 165.6,225.7 166.4,224.6 167.2,223.4 168.0,222.2 168.8,221.1 169.6,220.1 170.4,219.2 171.2,218.4 172.0,217.6 172.8,216.7 173.6,215.9 174.4,215.0 175.2,214.2 176.0,213.4 176.8,212.5 177.6,211.7 178.4,210.8 179.2,210.0 180.0,209.2 180.8,208.3 181.6,207.5 182.4,206.6 183.2,205.8 184.0,205.0 184.8,204.2 185.6,203.4 186.4,202.6 187.2,201.8 188.0,201.0 188.8,200.2 189.6,199.4 190.4,198.6 191.2,197.8 192.0,197.0 192.8,196.2 193.6,195.4 194.4,194.6 195.2,193.8 196.0,193.0 196.8,192.2 197.6,191.4 198.4,190.1 199.2,188.8 200.0,187.5 200.8,186.2 201.6,184.9 202.4,183.6 203.2,182.3 204.0,181.0 204.8,179.7 205.6,178.4 206.4,177.1 207.2,176.3 208.0,176.4 208.8,176.5 209.6,176.6 210.4,176.7 211.2,176.7 212.0,176.8 212.8,176.9 213.6,176.5 214.4,176.0 215.2,175.6 216.0,175.1 216.8,174.7 217.6,174.3 218.4,174.0 219.2,173.8 220.0,173.5 220.8,173.3 221.6,173.0 222.4,172.8 223.2,172.6 224.0,172.3 224.7,172.1 224.7,194.0 224.0,195.1 223.2,196.3 222.4,197.5 221.6,198.7 220.8,199.9 220.0,201.1 219.2,202.3 218.4,203.5 217.6,204.8 216.8,206.1 216.0,207.3 215.2,208.6 214.4,209.9 213.6,211.2 212.8,212.5 212.0,212.3 211.2,212.0 210.4,211.8 209.6,211.5 208.8,211.3 208.0,211.0 207.2,210.8 206.4,210.5 205.6,210.2 204.8,209.9 204.0,210.7 203.2,211.5 202.4,212.4 201.6,213.3 200.8,214.2 200.0,215.1 199.2,215.9 198.4,216.8 197.6,217.7 196.8,218.3 196.0,218.8 195.2,219.4 194.4,219.9 193.6,220.5 192.8,221.0 192.0,221.6 191.2,222.2 190.4,222.7 189.6,223.3 188.8,223.8 188.0,224.4 187.2,225.0 186.4,225.5 185.6,226.1 184.8,226.6 184.0,227.2 183.2,227.8 182.4,228.4 181.6,229.0 180.8,229.6 180.0,230.2 179.2,230.8 178.4,231.4 177.6,232.0 176.8,232.6 176.0,233.2 175.2,233.8 174.4,234.4 173.6,235.0 172.8,235.6 172.0,236.2 171.2,236.8 170.4,237.4 169.6,238.0 168.8,238.7 168.0,239.5 167.2,240.3 166.4,241.1 165.6,241.9 164.8,242.7 164.0,243.5 163.2,244.3 162.4,245.1 161.6,245.9 160.8,246.7 160.0,247.5 159.2,248.3 158.4,249.1 157.6,249.9 156.8,250.7 156.0,251.5 155.2,252.3 154.4,253.1 153.6,253.9 152.8,254.7 152.0,255.5 151.2,256.3 150.4,257.1 149.6,257.9 148.8,258.7 148.0,259.5 147.2,260.2 146.4,260.9 145.6,261.5 144.8,262.2 144.0,262.9 143.2,263.5 142.4,264.2 141.6,264.9 140.8,265.6 140.0,266.2 139.2,266.9 138.4,267.6 137.6,268.2 136.8,268.9 136.0,269.6 135.2,270.2 134.4,270.9 133.6,271.5 132.8,271.7 132.0,272.0 131.2,272.2 130.4,272.4 129.6,272.6 128.8,272.9 128.0,273.1 127.2,273.3 126.4,273.5 125.6,273.7 124.8,273.9 124.0,273.9 123.2,273.9 122.4,273.9 121.6,273.9 120.8,273.9 120.0,273.9 119.2,273.9 118.4,273.9 117.6,273.9 116.8,273.9 116.0,273.9 115.2,273.9 114.4,273.9 113.6,273.9 112.8,273.9 112.0,273.9" fill="#ececfa"/>
<path d="M224.7 172.1V194.0M222.3 172.8V197.6M220.0 173.5V201.1M217.6 174.3V204.8M215.2 175.6V208.6M212.8 176.9V212.4M210.5 176.7V211.8M208.1 176.4V211.1M205.7 178.2V210.3M203.4 182.0V211.4M201.0 185.9V214.0M198.6 189.7V216.6M196.3 192.7V218.6M193.9 195.1V220.3M191.5 197.5V221.9M189.1 199.9V223.6M186.8 202.2V225.2M184.4 204.6V226.9M182.0 207.0V228.6M179.7 209.5V230.4M177.3 212.0V232.2M174.9 214.5V234.0M172.6 217.0V235.8M170.2 219.5V237.6M167.8 222.5V239.7M165.4 226.0V242.1M163.1 229.4V244.4M160.7 232.9V246.8M158.3 236.3V249.2M156.0 239.3V251.5M153.6 242.0V253.9M151.2 244.5V256.3M148.9 246.8V258.6M146.5 249.6V260.8M144.1 252.5V262.8M141.7 255.6V264.8M139.4 258.6V266.7M137.0 261.7V268.7M134.6 264.8V270.7M132.3 267.0V271.9M129.9 268.8V272.5M127.5 270.5V273.2M125.2 272.2V273.9M122.8 272.6V273.9M120.4 272.8V273.9M118.0 273.1V273.9M115.7 273.4V273.9" stroke="#a2a2dc" stroke-width="0.6" fill="none"/>
<path d="M223.9 172.1h1.5M223.9 194.0h1.5M221.6 172.8h1.5M221.6 197.6h1.5M219.2 173.5h1.5M219.2 201.1h1.5M216.8 174.3h1.5M216.8 204.8h1.5M214.5 175.6h1.5M214.5 208.6h1.5M212.1 176.9h1.5M212.1 212.4h1.5M209.7 176.7h1.5M209.7 211.8h1.5M207.4 176.4h1.5M207.4 211.1h1.5M205.0 178.2h1.5M205.0 210.3h1.5M202.6 182.0h1.5M202.6 211.4h1.5M200.2 185.9h1.5M200.2 214.0h1.5M197.9 189.7h1.5M197.9 216.6h1.5M195.5 192.7h1.5M195.5 218.6h1.5M193.1 195.1h1.5M193.1 220.3h1.5M190.8 197.5h1.5M190.8 221.9h1.5M188.4 199.9h1.5M188.4 223.6h1.5M186.0 202.2h1.5M186.0 225.2h1.5M183.7 204.6h1.5M183.7 226.9h1.5M181.3 207.0h1.5M181.3 228.6h1.5M178.9 209.5h1.5M178.9 230.4h1.5M176.5 212.0h1.5M176.5 232.2h1.5M174.2 214.5h1.5M174.2 234.0h1.5M171.8 217.0h1.5M171.8 235.8h1.5M169.4 219.5h1.5M169.4 237.6h1.5M167.1 222.5h1.5M167.1 239.7h1.5M164.7 226.0h1.5M164.7 242.1h1.5M162.3 229.4h1.5M162.3 244.4h1.5M160.0 232.9h1.5M160.0 246.8h1.5M157.6 236.3h1.5M157.6 249.2h1.5M155.2 239.3h1.5M155.2 251.5h1.5M152.8 242.0h1.5M152.8 253.9h1.5M150.5 244.5h1.5M150.5 256.3h1.5M148.1 246.8h1.5M148.1 258.6h1.5M145.7 249.6h1.5M145.7 260.8h1.5M143.4 252.5h1.5M143.4 262.8h1.5M141.0 255.6h1.5M141.0 264.8h1.5M138.6 258.6h1.5M138.6 266.7h1.5M136.3 261.7h1.5M136.3 268.7h1.5M133.9 264.8h1.5M133.9 270.7h1.5M131.5 267.0h1.5M131.5 271.9h1.5M129.1 268.8h1.5M129.1 272.5h1.5M126.8 270.5h1.5M126.8 273.2h1.5M124.4 272.2h1.5M124.4 273.9h1.5M122.0 272.6h1.5M122.0 273.9h1.5M119.7 272.8h1.5M119.7 273.9h1.5M117.3 273.1h1.5M117.3 273.9h1.5M114.9 273.4h1.5M114.9 273.9h1.5" stroke="#6c6cae" stroke-width="0.6" fill="none"/>
<polyline points="111.5,273.9 112.1,273.9 112.7,273.9 113.3,273.9 113.9,273.9 114.5,273.9 115.1,273.9 115.7,273.9 116.3,273.9 116.9,273.9 117.5,273.9 118.1,273.9 118.7,273.9 119.3,273.8 119.9,273.8 120.5,273.8 121.1,273.8 121.7,273.8 122.3,273.8 122.9,273.7 123.5,273.6 124.1,273.5 124.7,273.4 125.3,273.3 125.9,273.2 126.5,273.0 127.1,272.9 127.7,272.7 128.3,272.6 128.9,272.4 129.5,272.3 130.1,272.1 130.7,271.9 131.3,271.7 131.9,271.5 132.5,271.3 133.1,271.1 133.7,270.9 134.3,270.7 134.9,270.4 135.5,270.1 136.1,269.8 136.7,269.4 137.3,269.1 137.9,268.8 138.5,268.4 139.1,268.1 139.7,267.9 140.3,267.6 140.9,267.3 141.5,267.1 142.1,266.8 142.7,266.6 143.3,266.3 143.9,266.1 144.5,265.9 145.1,265.6 145.7,265.4 146.3,265.2 146.9,265.0 147.5,264.8 148.1,264.6 148.7,264.4 149.3,264.2 149.9,264.0 150.5,263.8 151.1,263.7 151.7,263.6 152.3,263.4 152.9,263.3 153.5,263.2 154.1,263.1 154.7,263.1 155.3,263.1 155.9,263.1 156.5,263.1 157.1,263.2 157.7,263.2 158.3,263.2 158.9,263.1 159.5,263.0 160.1,262.9 160.7,262.7 161.3,262.6 161.9,262.4 162.5,262.2 163.1,261.9 163.7,261.6 164.3,261.4 164.9,261.1 165.5,260.8 166.1,260.5 166.7,260.3 167.3,260.0 167.9,259.8 168.5,259.6 169.1,259.4 169.7,259.2 170.3,259.0 170.9,258.8 171.5,258.6 172.1,258.4 172.7,258.3 173.3,258.2 173.9,258.1 174.5,258.1 175.1,258.1 175.7,258.2 176.3,258.3 176.9,258.4 177.5,258.5 178.1,258.7 178.7,258.8 179.3,259.0 179.9,259.2 180.5,259.4 181.1,259.5 181.7,259.7 182.3,260.0 182.9,260.3 183.5,260.6 184.1,260.9 184.7,261.1 185.3,261.4 185.9,261.7 186.5,261.9 187.1,262.1 187.7,262.3 188.3,262.5 188.9,262.7 189.5,262.9 190.1,263.0 190.7,263.1 191.3,263.2 191.9,263.3 192.5,263.4 193.1,263.4 193.7,263.5 194.3,263.5 194.9,263.6 195.5,263.6 196.1,263.7 196.7,263.7 197.3,263.8 197.9,263.9 198.5,263.9 199.1,264.0 199.7,264.1 200.3,264.1 200.9,264.2 201.5,264.3 202.1,264.3 202.7,264.4 203.3,264.5 203.9,264.5 204.5,264.6 205.1,264.7 205.7,264.7 206.3,264.8 206.9,264.9 207.5,265.0 208.1,265.0 208.7,265.1 209.3,265.2 209.9,265.2 210.5,265.3 211.1,265.4 211.7,265.5 212.3,265.5 212.9,265.6 213.5,265.7 214.1,265.8 214.7,265.9 215.3,266.0 215.9,266.0 216.5,266.1 217.1,266.2 217.7,266.3 218.3,266.4 218.9,266.5 219.5,266.6 220.1,266.7 220.7,266.8 221.3,266.9 221.9,267.0 222.5,267.2 223.1,267.3 223.7,267.4 224.3,267.5 224.3,267.5" fill="none" stroke="#1ee41e" stroke-width="1.9" stroke-linejoin="round" stroke-linecap="round"/>
<polyline points="111.5,273.9 112.1,273.9 112.7,273.9 113.3,273.9 113.9,273.9 114.5,273.9 115.1,273.9 115.7,273.9 116.3,273.9 116.9,273.9 117.5,273.9 118.1,273.9 118.7,273.9 119.3,273.8 119.9,273.8 120.5,273.8 121.1,273.8 121.7,273.8 122.3,273.8 122.9,273.7 123.5,273.6 124.1,273.5 124.7,273.4 125.3,273.2 125.9,273.0 126.5,272.8 127.1,272.6 127.7,272.4 128.3,272.2 128.9,272.0 129.5,271.7 130.1,271.4 130.7,271.0 131.3,270.7 131.9,270.3 132.5,269.9 133.1,269.5 133.7,269.1 134.3,268.7 134.9,268.2 135.5,267.7 136.1,267.2 136.7,266.6 137.3,266.1 137.9,265.5 138.5,264.9 139.1,264.3 139.7,263.6 140.3,263.0 140.9,262.3 141.5,261.6 142.1,260.9 142.7,260.2 143.3,259.5 143.9,258.8 144.5,258.1 145.1,257.4 145.7,256.7 146.3,256.1 146.9,255.4 147.5,254.7 148.1,254.1 148.7,253.5 149.3,252.9 149.9,252.3 150.5,251.7 151.1,251.1 151.7,250.5 152.3,249.9 152.9,249.3 153.5,248.7 154.1,248.1 154.7,247.6 155.3,247.0 155.9,246.4 156.5,245.8 157.1,245.1 157.7,244.5 158.3,243.8 158.9,243.0 159.5,242.3 160.1,241.5 160.7,240.7 161.3,240.0 161.9,239.2 162.5,238.5 163.1,237.8 163.7,237.1 164.3,236.5 164.9,235.8 165.5,235.1 166.1,234.4 166.7,233.8 167.3,233.2 167.9,232.5 168.5,231.9 169.1,231.3 169.7,230.7 170.3,230.1 170.9,229.6 171.5,229.1 172.1,228.5 172.7,228.0 173.3,227.5 173.9,227.0 174.5,226.4 175.1,225.9 175.7,225.4 176.3,224.8 176.9,224.2 177.5,223.6 178.1,223.0 178.7,222.4 179.3,221.8 179.9,221.2 180.5,220.6 181.1,220.0 181.7,219.4 182.3,218.8 182.9,218.2 183.5,217.6 184.1,217.0 184.7,216.5 185.3,215.9 185.9,215.4 186.5,214.8 187.1,214.3 187.7,213.8 188.3,213.2 188.9,212.7 189.5,212.2 190.1,211.6 190.7,211.1 191.3,210.6 191.9,210.1 192.5,209.6 193.1,209.1 193.7,208.6 194.3,208.1 194.9,207.6 195.5,207.1 196.1,206.6 196.7,206.1 197.3,205.6 197.9,205.1 198.5,204.6 199.1,204.1 199.7,203.5 200.3,203.0 200.9,202.4 201.5,201.8 202.1,201.1 202.7,200.4 203.3,199.7 203.9,199.0 204.5,198.2 205.1,197.2 205.7,196.0 206.3,194.8 206.9,194.0 207.5,193.6 208.1,193.7 208.7,193.9 209.3,194.2 209.9,194.5 210.5,194.9 211.1,195.5 211.7,195.9 212.3,196.1 212.9,195.7 213.5,195.0 214.1,194.2 214.7,193.4 215.3,192.5 215.9,191.6 216.5,190.7 217.1,190.0 217.7,189.6 218.3,189.4 218.9,189.3 219.5,189.2 220.1,189.0 220.7,188.9 221.3,188.6 221.9,188.2 222.5,187.7 223.1,187.0 223.7,186.1 224.3,184.6 224.7,183.4" fill="none" stroke="#0c0cc4" stroke-width="2.0" stroke-linejoin="round" stroke-linecap="round"/>
<text x="67.40" y="172.80" font-size="10.5" text-anchor="start" fill="#000" font-weight="bold" stroke="#000" stroke-width="0.22">D</text>
<text x="93.20" y="273.40" font-size="9.15" text-anchor="start" fill="#000" font-weight="bold" stroke="#000" stroke-width="0.22" transform="rotate(-90 93.20 273.40)">Fluorescence intensity</text>
<text x="153.60" y="296.10" font-size="8.4" text-anchor="start" fill="#000" font-weight="bold" stroke="#000" stroke-width="0.22">Time (sec)</text>
<text x="233.70" y="183.70" font-size="10.4" text-anchor="start" fill="#000" font-weight="bold" stroke="#000" stroke-width="0.22">V. Ctl.</text>
<text x="238.70" y="263.90" font-size="10.6" text-anchor="start" fill="#000" font-weight="bold" stroke="#000" stroke-width="0.22" textLength="19.7" lengthAdjust="spacingAndGlyphs">3μM</text>
<rect x="356.90" y="180.80" width="11.80" height="91.50" fill="#000"/>
<rect x="368.70" y="256.24" width="12.00" height="16.06" fill="#c6c6c6" stroke="#606060" stroke-width="0.6"/>
<rect x="397.80" y="245.32" width="12.50" height="26.98" fill="#000"/>
<rect x="410.30" y="264.06" width="12.30" height="8.24" fill="#c6c6c6" stroke="#606060" stroke-width="0.6"/>
<rect x="440.00" y="200.27" width="12.00" height="72.03" fill="#000"/>
<rect x="452.00" y="254.42" width="11.90" height="17.88" fill="#c6c6c6" stroke="#606060" stroke-width="0.6"/>
<line x1="347.80" y1="180.00" x2="347.80" y2="272.30" stroke="#6a6a6a" stroke-width="1"/>
<line x1="347.80" y1="272.30" x2="473.00" y2="272.30" stroke="#404040" stroke-width="1"/>
<line x1="345.80" y1="271.80" x2="347.80" y2="271.80" stroke="#6a6a6a" stroke-width="0.9"/>
<text x="342.10" y="275.00" font-size="7.4" text-anchor="end" fill="#000" font-weight="bold" stroke="#000" stroke-width="0.22">0</text>
<line x1="345.80" y1="253.60" x2="347.80" y2="253.60" stroke="#6a6a6a" stroke-width="0.9"/>
<text x="342.10" y="256.80" font-size="7.4" text-anchor="end" fill="#000" font-weight="bold" stroke="#000" stroke-width="0.22">200</text>
<line x1="345.80" y1="235.40" x2="347.80" y2="235.40" stroke="#6a6a6a" stroke-width="0.9"/>
<text x="342.10" y="238.60" font-size="7.4" text-anchor="end" fill="#000" font-weight="bold" stroke="#000" stroke-width="0.22">400</text>
<line x1="345.80" y1="217.20" x2="347.80" y2="217.20" stroke="#6a6a6a" stroke-width="0.9"/>
<text x="342.10" y="220.40" font-size="7.4" text-anchor="end" fill="#000" font-weight="bold" stroke="#000" stroke-width="0.22">600</text>
<line x1="345.80" y1="199.00" x2="347.80" y2="199.00" stroke="#6a6a6a" stroke-width="0.9"/>
<text x="342.10" y="202.20" font-size="7.4" text-anchor="end" fill="#000" font-weight="bold" stroke="#000" stroke-width="0.22">800</text>
<line x1="345.80" y1="180.80" x2="347.80" y2="180.80" stroke="#6a6a6a" stroke-width="0.9"/>
<text x="342.10" y="184.00" font-size="7.4" text-anchor="end" fill="#000" font-weight="bold" stroke="#000" stroke-width="0.22">1000</text>
<line x1="389.30" y1="272.30" x2="389.30" y2="274.30" stroke="#404040" stroke-width="0.9"/>
<line x1="431.20" y1="272.30" x2="431.20" y2="274.30" stroke="#404040" stroke-width="0.9"/>
<line x1="472.80" y1="272.30" x2="472.80" y2="274.30" stroke="#404040" stroke-width="0.9"/>
<rect x="373.80" y="176.20" width="7.70" height="7.60" fill="#000"/>
<text x="390.60" y="183.40" font-size="8.3" text-anchor="start" fill="#000" font-weight="bold" stroke="#000" stroke-width="0.22">Pre-infusion</text>
<rect x="449.30" y="176.30" width="7.00" height="7.00" fill="#c6c6c6" stroke="#505050" stroke-width="0.8"/>
<text x="462.30" y="183.70" font-size="7.5" text-anchor="start" fill="#000" font-weight="bold" stroke="#000" stroke-width="0.22">On infusion</text>
<text x="357.00" y="288.80" font-size="8.6" text-anchor="start" fill="#000" font-weight="bold" stroke="#000" stroke-width="0.22" textLength="23.2" lengthAdjust="spacingAndGlyphs">Pig #1</text>
<text x="398.70" y="288.80" font-size="8.6" text-anchor="start" fill="#000" font-weight="bold" stroke="#000" stroke-width="0.22" textLength="23.2" lengthAdjust="spacingAndGlyphs">Pig #2</text>
<text x="440.20" y="288.80" font-size="8.6" text-anchor="start" fill="#000" font-weight="bold" stroke="#000" stroke-width="0.22" textLength="23.2" lengthAdjust="spacingAndGlyphs">Pig #3</text>
<text x="290.00" y="172.40" font-size="10.2" text-anchor="start" fill="#000" font-weight="bold" stroke="#000" stroke-width="0.22">E</text>
<text x="312.5" y="271.9" font-size="9.35" font-weight="bold" fill="#000" stroke="#000" stroke-width="0.22" style="white-space:pre" transform="rotate(-90 312.5 271.9)"><tspan font-size="5.5" dy="-3.2">111</tspan><tspan dy="3.2">In-labeled  Platelets</tspan></text>
<text x="323.2" y="241.8" font-size="9.5" font-weight="bold" fill="#000" stroke="#000" stroke-width="0.22" transform="rotate(-90 323.2 241.8)">(10<tspan font-size="6.5" dy="-3.5">9</tspan><tspan dy="3.5">/cm</tspan><tspan font-size="6.5" dy="-3.5">2</tspan><tspan dy="3.5">)</tspan></text>
<rect x="127.30" y="327.92" width="19.30" height="79.58" fill="#000"/>
<rect x="146.60" y="327.92" width="19.00" height="79.58" fill="#c6c6c6" stroke="#606060" stroke-width="0.6"/>
<rect x="194.60" y="327.92" width="19.30" height="79.58" fill="#000"/>
<line x1="112.50" y1="311.80" x2="112.50" y2="407.50" stroke="#404040" stroke-width="0.9"/>
<line x1="112.50" y1="407.50" x2="242.70" y2="407.50" stroke="#404040" stroke-width="0.9"/>
<line x1="110.50" y1="407.50" x2="112.50" y2="407.50" stroke="#404040" stroke-width="0.9"/>
<text x="107.90" y="410.60" font-size="6.5" text-anchor="end" fill="#000" font-weight="bold" stroke="#000" stroke-width="0.22">0</text>
<line x1="110.50" y1="391.58" x2="112.50" y2="391.58" stroke="#404040" stroke-width="0.9"/>
<text x="107.90" y="394.68" font-size="6.5" text-anchor="end" fill="#000" font-weight="bold" stroke="#000" stroke-width="0.22">20</text>
<line x1="110.50" y1="375.67" x2="112.50" y2="375.67" stroke="#404040" stroke-width="0.9"/>
<text x="107.90" y="378.77" font-size="6.5" text-anchor="end" fill="#000" font-weight="bold" stroke="#000" stroke-width="0.22">40</text>
<line x1="110.50" y1="359.75" x2="112.50" y2="359.75" stroke="#404040" stroke-width="0.9"/>
<text x="107.90" y="362.85" font-size="6.5" text-anchor="end" fill="#000" font-weight="bold" stroke="#000" stroke-width="0.22">60</text>
<line x1="110.50" y1="343.84" x2="112.50" y2="343.84" stroke="#404040" stroke-width="0.9"/>
<text x="107.90" y="346.94" font-size="6.5" text-anchor="end" fill="#000" font-weight="bold" stroke="#000" stroke-width="0.22">80</text>
<line x1="110.50" y1="327.92" x2="112.50" y2="327.92" stroke="#404040" stroke-width="0.9"/>
<text x="107.90" y="331.02" font-size="6.5" text-anchor="end" fill="#000" font-weight="bold" stroke="#000" stroke-width="0.22">100</text>
<line x1="110.50" y1="312.00" x2="112.50" y2="312.00" stroke="#404040" stroke-width="0.9"/>
<text x="107.90" y="315.10" font-size="6.5" text-anchor="end" fill="#000" font-weight="bold" stroke="#000" stroke-width="0.22">120</text>
<line x1="179.30" y1="407.50" x2="179.30" y2="409.50" stroke="#404040" stroke-width="0.9"/>
<line x1="242.70" y1="407.50" x2="242.70" y2="409.50" stroke="#404040" stroke-width="0.9"/>
<text x="220.40" y="400.70" font-size="8.4" text-anchor="start" fill="#000" font-weight="bold" stroke="#000" stroke-width="0.22">0</text>
<text x="139.70" y="420.50" font-size="6.5" text-anchor="start" fill="#000" font-weight="bold" stroke="#000" stroke-width="0.22">ADP</text>
<text x="205.00" y="420.50" font-size="6.5" text-anchor="start" fill="#000" font-weight="bold" stroke="#000" stroke-width="0.22">CVXN</text>
<text x="67.80" y="308.50" font-size="10.2" text-anchor="start" fill="#000" font-weight="bold" stroke="#000" stroke-width="0.22">F</text>
<text x="90.40" y="397.20" font-size="9.75" text-anchor="start" fill="#000" font-weight="bold" stroke="#000" stroke-width="0.22" transform="rotate(-90 90.40 397.20)">Aggregation (%)</text>
<rect x="352.00" y="381.18" width="13.20" height="24.93" fill="#000"/>
<rect x="365.20" y="368.51" width="12.80" height="37.59" fill="#c6c6c6" stroke="#606060" stroke-width="0.6"/>
<rect x="397.50" y="365.72" width="13.00" height="40.38" fill="#000"/>
<rect x="410.50" y="370.71" width="13.00" height="35.39" fill="#c6c6c6" stroke="#606060" stroke-width="0.6"/>
<rect x="442.30" y="381.18" width="13.50" height="24.93" fill="#000"/>
<rect x="455.80" y="374.89" width="12.60" height="31.21" fill="#c6c6c6" stroke="#606060" stroke-width="0.6"/>
<line x1="342.00" y1="305.40" x2="342.00" y2="406.10" stroke="#303030" stroke-width="1"/>
<line x1="342.00" y1="406.10" x2="478.70" y2="406.10" stroke="#303030" stroke-width="1"/>
<line x1="340.00" y1="406.10" x2="342.00" y2="406.10" stroke="#303030" stroke-width="0.9"/>
<text x="335.00" y="408.70" font-size="7.3" text-anchor="end" fill="#000" font-weight="bold" stroke="#000" stroke-width="0.22">0</text>
<line x1="340.00" y1="386.16" x2="342.00" y2="386.16" stroke="#303030" stroke-width="0.9"/>
<text x="335.00" y="388.76" font-size="7.3" text-anchor="end" fill="#000" font-weight="bold" stroke="#000" stroke-width="0.22">2</text>
<line x1="340.00" y1="366.22" x2="342.00" y2="366.22" stroke="#303030" stroke-width="0.9"/>
<text x="335.00" y="368.82" font-size="7.3" text-anchor="end" fill="#000" font-weight="bold" stroke="#000" stroke-width="0.22">4</text>
<line x1="340.00" y1="346.28" x2="342.00" y2="346.28" stroke="#303030" stroke-width="0.9"/>
<text x="335.00" y="348.88" font-size="7.3" text-anchor="end" fill="#000" font-weight="bold" stroke="#000" stroke-width="0.22">6</text>
<line x1="340.00" y1="326.34" x2="342.00" y2="326.34" stroke="#303030" stroke-width="0.9"/>
<text x="335.00" y="328.94" font-size="7.3" text-anchor="end" fill="#000" font-weight="bold" stroke="#000" stroke-width="0.22">8</text>
<line x1="340.00" y1="306.40" x2="342.00" y2="306.40" stroke="#303030" stroke-width="0.9"/>
<text x="335.00" y="309.00" font-size="7.3" text-anchor="end" fill="#000" font-weight="bold" stroke="#000" stroke-width="0.22">10</text>
<line x1="387.70" y1="406.10" x2="387.70" y2="408.10" stroke="#303030" stroke-width="0.9"/>
<line x1="432.90" y1="406.10" x2="432.90" y2="408.10" stroke="#303030" stroke-width="0.9"/>
<line x1="478.70" y1="406.10" x2="478.70" y2="408.10" stroke="#303030" stroke-width="0.9"/>
<text x="353.10" y="419.60" font-size="8.1" text-anchor="start" fill="#000" font-weight="bold" stroke="#000" stroke-width="0.22" textLength="23.6" lengthAdjust="spacingAndGlyphs">Pig #1</text>
<text x="398.60" y="419.60" font-size="8.1" text-anchor="start" fill="#000" font-weight="bold" stroke="#000" stroke-width="0.22" textLength="23.6" lengthAdjust="spacingAndGlyphs">Pig #2</text>
<text x="444.40" y="419.60" font-size="8.1" text-anchor="start" fill="#000" font-weight="bold" stroke="#000" stroke-width="0.22" textLength="23.6" lengthAdjust="spacingAndGlyphs">Pig #3</text>
<text x="294.70" y="309.20" font-size="11.5" text-anchor="start" fill="#000" font-weight="bold" stroke="#000" stroke-width="0.22">G</text>
<text x="315.10" y="396.50" font-size="9.3" text-anchor="start" fill="#000" font-weight="bold" stroke="#000" stroke-width="0.22" transform="rotate(-90 315.10 396.50)">Ear bleeding time</text>
<text x="326.30" y="368.70" font-size="8.95" text-anchor="start" fill="#000" font-weight="bold" stroke="#000" stroke-width="0.22" transform="rotate(-90 326.30 368.70)">(min)</text>
</svg>
</body></html>
